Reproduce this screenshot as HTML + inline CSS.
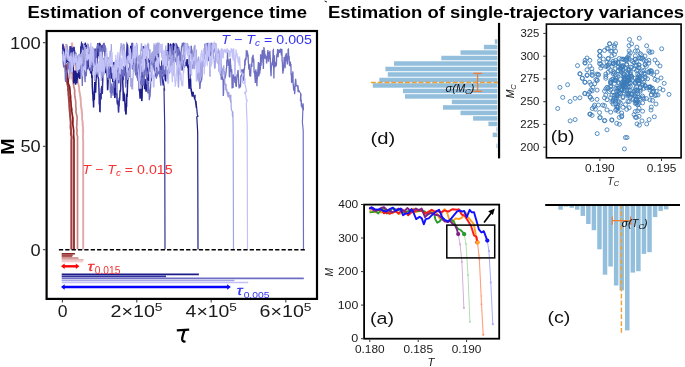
<!DOCTYPE html>
<html><head><meta charset="utf-8"><style>
html,body{margin:0;padding:0;background:#fff;}
svg{display:block;filter:blur(0.35px);}
text{font-family:"Liberation Sans",sans-serif;}
</style></head><body>
<svg width="685" height="367" viewBox="0 0 685 367">
<defs><clipPath id="clipL"><rect x="47.7" y="32" width="268" height="217.6"/></clipPath></defs>
<rect width="685" height="367" fill="#fff"/>
<line x1="324.6" y1="1.0" x2="327.0" y2="2.0" stroke="#000" stroke-width="0.9"/>
<g clip-path="url(#clipL)">
<polyline points="72.2,42.0 72.7,45.5 73.0,49.0 73.1,52.5 73.0,56.0 74.1,59.5 74.8,63.0 75.5,66.5 76.2,70.0 76.8,73.3 77.7,76.7 77.6,80.0 78.3,83.3 79.3,86.7 79.2,90.0 79.9,93.1 80.0,96.2 80.4,99.4 80.9,102.5 80.6,105.6 81.2,108.8 81.4,111.9 81.9,115.0 82.0,118.1 82.6,121.2 82.2,124.4 82.9,127.5 82.5,130.6 82.8,133.8 82.9,136.9 83.0,140.0 83.0,143.0 83.0,146.1 83.0,149.1 83.0,152.2 83.0,155.2 83.0,158.3 83.0,161.3 83.0,164.4 83.0,167.4 83.0,170.5 83.0,173.5 83.0,176.6 83.0,179.6 83.0,182.7 83.0,185.7 83.0,188.8 83.0,191.8 83.0,194.8 83.0,197.9 83.0,200.9 83.0,204.0 83.0,207.0 83.0,210.1 83.0,213.1 83.0,216.2 83.0,219.2 83.0,222.3 83.0,225.3 83.0,228.4 83.0,231.4 83.0,234.5 83.0,237.5 83.0,240.6 83.0,243.6 83.0,246.7 83.0,249.7" fill="none" stroke="#f4cccc" stroke-width="1.7"/>
<polyline points="71.8,43.0 71.9,46.0 72.7,49.0 73.1,52.0 73.1,55.0 73.6,58.0 74.6,61.5 75.2,65.0 75.9,68.5 76.7,72.0 76.9,75.3 77.8,78.7 77.8,82.0 78.6,85.3 79.2,88.7 79.4,92.0 80.1,95.0 80.8,98.0 80.7,101.0 80.8,104.0 81.3,107.0 81.9,110.0 82.0,113.0 82.3,116.0 82.1,119.0 82.7,122.0 82.8,125.0 83.1,128.0 83.3,131.0 83.2,134.0 82.8,137.0 83.3,140.0 83.3,143.0 83.3,146.1 83.3,149.1 83.3,152.2 83.3,155.2 83.3,158.3 83.3,161.3 83.3,164.4 83.3,167.4 83.3,170.5 83.3,173.5 83.3,176.6 83.3,179.6 83.3,182.7 83.3,185.7 83.3,188.8 83.3,191.8 83.3,194.8 83.3,197.9 83.3,200.9 83.3,204.0 83.3,207.0 83.3,210.1 83.3,213.1 83.3,216.2 83.3,219.2 83.3,222.3 83.3,225.3 83.3,228.4 83.3,231.4 83.3,234.5 83.3,237.5 83.3,240.6 83.3,243.6 83.3,246.7 83.3,249.7" fill="none" stroke="#e0a8a8" stroke-width="1.7"/>
<polyline points="66.1,44.0 67.1,47.2 67.4,50.4 67.6,53.6 68.3,56.8 69.2,60.0 69.6,63.0 70.5,66.0 70.4,69.0 71.9,72.0 72.4,75.0 72.2,78.0 72.9,81.0 73.4,84.0 73.9,87.0 74.7,90.0 74.6,93.1 74.8,96.2 75.4,99.4 75.8,102.5 75.7,105.6 76.1,108.8 75.9,111.9 76.7,115.0 77.2,118.1 76.9,121.2 76.9,124.4 76.6,127.5 77.1,130.6 76.8,133.8 77.6,136.9 77.5,140.0 77.5,143.0 77.5,146.1 77.5,149.1 77.5,152.2 77.5,155.2 77.5,158.3 77.5,161.3 77.5,164.4 77.5,167.4 77.5,170.5 77.5,173.5 77.5,176.6 77.5,179.6 77.5,182.7 77.5,185.7 77.5,188.8 77.5,191.8 77.5,194.8 77.5,197.9 77.5,200.9 77.5,204.0 77.5,207.0 77.5,210.1 77.5,213.1 77.5,216.2 77.5,219.2 77.5,222.3 77.5,225.3 77.5,228.4 77.5,231.4 77.5,234.5 77.5,237.5 77.5,240.6 77.5,243.6 77.5,246.7 77.5,249.7" fill="none" stroke="#c88080" stroke-width="1.7"/>
<polyline points="63.2,45.0 63.1,48.4 63.9,51.8 63.9,55.2 64.8,58.6 64.7,62.0 65.2,65.2 65.6,68.5 65.7,71.8 66.7,75.0 66.5,78.0 66.8,81.0 67.3,84.0 67.9,87.0 67.8,90.0 68.7,93.1 68.5,96.2 68.7,99.4 69.1,102.5 69.2,105.6 69.3,108.8 69.6,111.9 70.0,115.0 70.5,118.1 70.5,121.2 70.7,124.4 70.3,127.5 70.9,130.6 71.2,133.8 71.8,136.9 71.6,140.0 71.6,143.0 71.6,146.1 71.6,149.1 71.6,152.2 71.6,155.2 71.6,158.3 71.6,161.3 71.6,164.4 71.6,167.4 71.6,170.5 71.6,173.5 71.6,176.6 71.6,179.6 71.6,182.7 71.6,185.7 71.6,188.8 71.6,191.8 71.6,194.8 71.6,197.9 71.6,200.9 71.6,204.0 71.6,207.0 71.6,210.1 71.6,213.1 71.6,216.2 71.6,219.2 71.6,222.3 71.6,225.3 71.6,228.4 71.6,231.4 71.6,234.5 71.6,237.5 71.6,240.6 71.6,243.6 71.6,246.7 71.6,249.7" fill="none" stroke="#b05858" stroke-width="1.7"/>
<polyline points="63.6,46.0 64.0,49.4 64.0,52.8 64.5,56.2 64.9,59.6 65.2,63.0 66.1,66.2 65.9,69.5 66.3,72.8 66.7,76.0 67.3,79.0 67.3,82.0 67.7,85.0 68.2,88.0 68.5,91.0 68.3,94.1 69.2,97.2 69.1,100.4 69.5,103.5 69.6,106.6 70.1,109.8 69.9,112.9 70.1,116.0 70.4,119.0 70.8,122.0 70.6,125.0 71.0,128.0 71.2,131.0 70.7,134.0 71.5,137.0 71.3,140.0 71.3,143.0 71.3,146.1 71.3,149.1 71.3,152.2 71.3,155.2 71.3,158.3 71.3,161.3 71.3,164.4 71.3,167.4 71.3,170.5 71.3,173.5 71.3,176.6 71.3,179.6 71.3,182.7 71.3,185.7 71.3,188.8 71.3,191.8 71.3,194.8 71.3,197.9 71.3,200.9 71.3,204.0 71.3,207.0 71.3,210.1 71.3,213.1 71.3,216.2 71.3,219.2 71.3,222.3 71.3,225.3 71.3,228.4 71.3,231.4 71.3,234.5 71.3,237.5 71.3,240.6 71.3,243.6 71.3,246.7 71.3,249.7" fill="none" stroke="#a04040" stroke-width="1.7"/>
<polyline points="63.0,48.0 63.8,51.4 64.4,54.8 64.5,58.2 64.9,61.6 65.7,65.0 66.0,68.0 66.7,71.0 67.4,74.0 67.6,77.0 68.2,80.0 68.2,83.3 69.6,86.7 70.0,90.0 70.1,93.1 70.6,96.2 70.7,99.4 71.0,102.5 71.1,105.6 71.7,108.8 71.9,111.9 72.3,115.0 72.9,118.1 72.9,121.2 72.8,124.4 73.3,127.5 73.7,130.6 73.6,133.8 73.8,136.9 74.0,140.0 74.0,143.0 74.0,146.1 74.0,149.1 74.0,152.2 74.0,155.2 74.0,158.3 74.0,161.3 74.0,164.4 74.0,167.4 74.0,170.5 74.0,173.5 74.0,176.6 74.0,179.6 74.0,182.7 74.0,185.7 74.0,188.8 74.0,191.8 74.0,194.8 74.0,197.9 74.0,200.9 74.0,204.0 74.0,207.0 74.0,210.1 74.0,213.1 74.0,216.2 74.0,219.2 74.0,222.3 74.0,225.3 74.0,228.4 74.0,231.4 74.0,234.5 74.0,237.5 74.0,240.6 74.0,243.6 74.0,246.7 74.0,249.7" fill="none" stroke="#8b1a1a" stroke-width="1.7"/>
<polyline points="62.6,46.8 62.9,48.0 63.1,52.3 63.4,49.2 63.6,50.6 63.9,50.6 64.1,51.1 64.3,54.4 64.6,58.1 64.8,58.0 65.1,48.6 65.3,51.0 65.6,54.7 65.8,53.6 66.1,48.4 66.3,51.6 66.6,53.8 66.8,53.2 67.1,61.2 67.3,61.8 67.6,53.4 67.8,54.4 68.1,56.1 68.3,58.4 68.6,58.4 68.8,62.5 69.1,58.9 69.3,63.6 69.6,63.3 69.8,61.2 70.1,61.7 70.3,67.0 70.6,65.0 70.8,70.0 71.1,62.3 71.3,58.2 71.6,56.0 71.8,61.3 72.1,58.9 72.3,59.5 72.6,60.0 72.8,54.6 73.1,61.4 73.3,67.7 73.6,73.0 73.8,83.4 74.1,80.4 74.3,71.7 74.6,70.6 74.8,72.1 75.1,73.8 75.3,79.7 75.6,84.6 75.8,79.5 76.1,70.5 76.3,73.9 76.6,82.8 76.8,83.3 77.1,78.6 77.3,78.7 77.6,75.7 77.8,74.1 78.1,73.6 78.3,77.6 78.6,75.2 78.8,73.2 79.1,74.9 79.3,69.1 79.6,73.6 79.8,79.0 80.1,70.1 80.3,72.4 80.6,67.5 80.8,63.5 81.1,65.6 81.3,71.5 81.6,75.0 81.8,73.4 82.1,64.3 82.3,69.3 82.6,66.1 82.8,69.3 83.1,67.9 83.3,67.8 83.6,63.3 83.8,59.2 84.1,55.9 84.3,47.7 84.6,46.9 84.8,45.2 85.1,45.3 85.3,42.7 85.6,45.3 85.8,51.8 86.1,45.1 86.3,48.9 86.6,51.4 86.8,57.5 87.1,51.1 87.3,46.7 87.6,47.1 87.8,44.0 88.1,53.4 88.3,48.4 88.6,51.7 88.8,54.1 89.1,59.6 89.3,54.2 89.6,54.8 89.8,49.8 90.1,56.2 90.3,65.9 90.6,71.9 90.8,71.6 91.1,68.7 91.3,68.8 91.6,69.3 91.8,77.9 92.1,75.2 92.3,85.1 92.6,91.6 92.8,91.2 93.1,100.8 93.3,98.6 93.6,107.6 93.8,95.9 94.1,96.5 94.3,100.0 94.6,89.1 94.8,82.1 95.1,91.9 95.3,89.3 95.6,92.6 95.8,87.1 96.1,78.7 96.3,76.1 96.6,72.5 96.8,61.8 97.1,63.5 97.3,52.7 97.6,44.6 97.8,43.1 98.1,51.2 98.3,44.9 98.6,46.6 98.8,56.3 99.1,53.3 99.3,47.5 99.6,42.8 99.8,46.4 100.1,50.7 100.3,44.4 100.6,46.7 100.8,50.5 101.1,58.1 101.3,63.7 101.6,58.0 101.8,55.8 102.1,45.3 102.3,50.2 102.6,50.0 102.8,51.7 103.1,47.4 103.3,45.4 103.6,44.5 103.8,43.4 104.1,45.0 104.3,45.6 104.6,44.9 104.8,54.3 105.1,55.6 105.3,61.4 105.6,64.2 105.8,73.3 106.1,65.8 106.3,54.2 106.6,59.9 106.8,64.0 107.1,71.1 107.3,78.5 107.6,90.3 107.8,88.0 108.1,81.3 108.3,76.3 108.6,73.9 108.8,74.6 109.1,71.8 109.3,73.7 109.6,74.2 109.8,77.5 110.1,76.1 110.3,77.7 110.6,70.4 110.8,72.4 111.1,74.5 111.3,77.6 111.6,78.6 111.8,72.4 112.1,73.2 112.3,66.6 112.6,76.8 112.8,82.2 113.1,75.0 113.3,76.3 113.6,77.0 113.8,81.6 114.1,90.7 114.3,93.8 114.6,89.9 114.8,98.0 115.1,96.5 115.3,87.7 115.6,95.1 115.8,88.7 116.1,90.4 116.3,86.7 116.6,87.5 116.8,82.8 117.1,86.5 117.3,83.0 117.6,81.7 117.8,78.1 118.1,82.9 118.3,81.2 118.6,76.0 118.8,71.0 119.1,65.6 119.3,67.8 119.6,64.0 119.8,70.7 120.1,67.1 120.3,65.9 120.6,69.1 120.8,74.1 121.1,74.3 121.3,76.4 121.6,67.4 121.8,67.4 122.1,64.6 122.3,67.2 122.6,76.6 122.8,83.7 123.1,90.8 123.3,101.3 123.6,91.7 123.8,99.9 124.1,96.8 124.3,93.6 124.6,96.3 124.8,100.5 125.1,106.2 125.3,111.4 125.6,109.5 125.8,113.3 126.1,114.5 126.3,105.1 126.6,105.4 126.8,93.8 127.1,96.9 127.3,92.4 127.6,83.1 127.8,80.0 128.1,73.9 128.3,79.5 128.6,69.1 128.8,67.9 129.1,69.8 129.3,76.4 129.6,75.6 129.8,69.2 130.1,62.0 130.3,58.0 130.6,49.5 130.8,45.8 131.1,48.7 131.3,56.2 131.6,45.7 131.8,49.1 132.1,51.0 132.3,48.8 132.6,46.8 132.8,50.8 133.1,48.0 133.3,44.5 133.6,48.8 133.8,51.0 134.1,55.8 134.3,52.0 134.6,50.3 134.8,53.4 135.1,53.7 135.3,58.1 135.6,55.8 135.8,60.7 136.1,55.9 136.3,57.6 136.6,56.7 136.8,56.9 137.1,64.8 137.3,64.7 137.6,78.1 137.8,75.3 138.1,74.5 138.3,72.6 138.6,81.2 138.8,75.3 139.1,73.8 139.3,77.0 139.6,91.3 139.8,92.1 140.1,98.6 140.3,94.8 140.6,93.0 140.8,94.6 141.1,88.7 141.3,91.8 141.6,93.1 141.8,101.1 142.1,96.9 142.3,84.2 142.6,76.6 142.8,65.1 143.1,65.9 143.3,77.0 143.6,79.2 143.8,76.5 144.1,80.3 144.3,80.6 144.6,89.3 144.8,85.4 145.1,79.0 145.3,83.7 145.6,89.5 145.8,88.3 146.1,91.7 146.3,88.6 146.6,82.3 146.8,85.1 147.1,83.3 147.3,78.3 147.6,79.0 147.8,78.9 148.1,76.6 148.3,78.6 148.6,73.8 148.8,80.6 149.1,80.5 149.3,73.5 149.6,71.8 149.8,69.3 150.1,71.1 150.3,70.2 150.6,77.0 150.8,80.6 151.1,80.6 151.3,78.9 151.6,75.8 151.8,66.8 152.1,69.0 152.3,71.7 152.6,69.4 152.8,66.4 153.1,65.3 153.3,58.0 153.6,58.8 153.8,59.5 154.1,56.8 154.3,57.4 154.6,51.6 154.8,55.0 155.1,59.5 155.3,67.9 155.6,74.8 155.8,69.5 156.1,66.9 156.3,63.4 156.6,62.8 156.8,61.1 157.1,59.9 157.3,56.6 157.6,50.1 157.8,57.0 158.1,53.8 158.3,60.0 158.6,60.5 158.8,64.1 159.1,64.8 159.3,69.5 159.6,68.1 159.8,73.7 160.1,71.6 160.3,77.1 160.6,70.5 160.8,68.3 161.1,65.8 161.3,71.8 161.6,72.9 161.8,63.7 162.1,60.2 162.3,66.4 162.6,65.6 162.8,65.2 163.1,66.7 163.3,61.9 163.6,64.2 163.8,65.3 164.1,55.1 164.3,64.6 164.6,63.9 164.8,76.0 165.1,76.8 165.3,80.5 165.6,79.8 165.8,81.4 166.1,71.8 166.3,67.4 166.6,65.9 166.8,65.0 167.1,58.4 167.3,59.2 167.6,55.4 167.8,50.1 168.1,53.6 168.3,43.1 168.6,54.3 168.8,55.8 169.1,60.7 169.3,60.2 169.6,50.9 169.8,51.9 170.1,45.2 170.3,44.9 170.6,49.1 170.8,48.2 171.1,48.7 171.3,47.5 171.6,44.7 171.8,46.2 172.1,50.9 172.3,52.0 172.6,51.9 172.8,44.6 173.1,46.3 173.3,43.0 173.6,43.8 173.8,49.1 174.1,48.6 174.3,48.5 174.6,54.1 174.8,43.9 175.1,49.0 175.3,43.9 175.6,47.2 175.8,53.0 176.1,43.3 176.3,44.7 176.6,44.7 176.8,45.6 177.1,47.0 177.3,48.2 177.6,52.7 177.8,57.9 178.1,56.3 178.3,52.1 178.6,52.9 178.8,52.8 179.1,50.6 179.3,54.7 179.6,51.6 179.8,55.3 180.1,64.0 180.3,66.2 180.6,64.9 180.8,67.7 181.1,59.5 181.3,60.4 181.6,61.6 181.8,64.6 182.1,70.4 182.3,68.5 182.6,65.8 182.8,65.6 183.1,68.3 183.3,67.3 183.6,66.4 183.8,60.2 184.1,64.1 184.3,67.8 184.6,63.7 184.8,62.0 185.1,54.0 185.3,58.4 185.6,63.5 185.8,59.7 186.1,61.8 186.3,66.3 186.6,59.5 186.8,61.6 187.1,62.0 187.3,60.2 187.6,59.3 187.8,67.9 188.1,64.5 188.3,68.3 188.6,77.1 188.8,81.6 189.1,87.9 189.3,88.8 189.6,82.1 189.8,81.4 190.1,73.7 190.3,77.7 190.6,80.0 190.8,87.7" fill="none" stroke="#1c1c8a" stroke-width="1.5"/>
<polyline points="190.8,87.7 192.4,96.6 193.0,91.9 193.4,94.6" fill="none" stroke="#1c1c8a" stroke-width="1.6"/>
<polyline points="193.4,94.6 194.8,99.7 195.1,94.7 195.0,98.5 196.3,107.9 196.0,100.7 196.6,107.0 197.3,114.4 198.0,116.2 196.8,116.8 197.7,132.7 198.0,249.7" fill="none" stroke="#1c1c8a" stroke-width="1.2"/>
<polyline points="62.6,54.1 62.9,43.7 63.1,47.3 63.4,49.3 63.6,51.4 63.9,59.7 64.1,66.8 64.3,65.1 64.6,62.7 64.8,53.1 65.1,59.3 65.3,58.8 65.6,60.0 65.8,58.3 66.1,59.7 66.3,63.0 66.6,59.6 66.8,58.2 67.1,59.2 67.3,57.5 67.6,57.5 67.8,56.5 68.1,56.0 68.3,60.0 68.6,63.4 68.8,58.1 69.1,60.4 69.3,57.8 69.6,55.1 69.8,52.5 70.1,46.0 70.3,50.5 70.6,50.3 70.8,48.1 71.1,47.8 71.3,51.7 71.6,51.5 71.8,47.9 72.1,49.6 72.3,52.2 72.6,59.2 72.8,53.6 73.1,50.7 73.3,47.3 73.6,53.2 73.8,49.7 74.1,46.7 74.3,49.6 74.6,51.1 74.8,53.3 75.1,54.5 75.3,56.3 75.6,61.0 75.8,64.5 76.1,60.6 76.3,62.3 76.6,61.2 76.8,58.0 77.1,61.4 77.3,64.1 77.6,68.8 77.8,71.6 78.1,68.0 78.3,69.2 78.6,65.9 78.8,68.6 79.1,63.2 79.3,63.9 79.6,61.6 79.8,54.3 80.1,55.9 80.3,58.2 80.6,54.9 80.8,46.3 81.1,52.6 81.3,46.0 81.6,43.3 81.8,43.7 82.1,46.5 82.3,45.8 82.6,43.5 82.8,48.0 83.1,49.5 83.3,49.8 83.6,51.6 83.8,59.9 84.1,67.2 84.3,65.1 84.6,67.4 84.8,60.5 85.1,55.0 85.3,64.8 85.6,62.2 85.8,57.2 86.1,54.2 86.3,54.0 86.6,56.1 86.8,59.7 87.1,56.1 87.3,65.8 87.6,69.3 87.8,63.6 88.1,53.0 88.3,53.0 88.6,58.2 88.8,59.3 89.1,67.0 89.3,63.9 89.6,70.4 89.8,61.6 90.1,63.3 90.3,62.1 90.6,65.7 90.8,58.3 91.1,56.5 91.3,64.0 91.6,67.1 91.8,70.1 92.1,71.3 92.3,69.1 92.6,62.0 92.8,66.4 93.1,67.3 93.3,61.6 93.6,66.2 93.8,59.7 94.1,60.2 94.3,61.1 94.6,67.0 94.8,69.5 95.1,64.3 95.3,58.8 95.6,55.3 95.8,49.5 96.1,49.7 96.3,50.2 96.6,50.3 96.8,58.0 97.1,61.3 97.3,74.3 97.6,76.9 97.8,73.3 98.1,76.1 98.3,78.4 98.6,78.9 98.8,84.9 99.1,93.4 99.3,104.4 99.6,100.2 99.8,111.4 100.1,111.5 100.3,99.8 100.6,95.5 100.8,93.1 101.1,99.4 101.3,88.9 101.6,88.0 101.8,86.0 102.1,90.2 102.3,93.9 102.6,83.4 102.8,79.1 103.1,73.2 103.3,67.2 103.6,66.8 103.8,61.8 104.1,59.9 104.3,60.3 104.6,58.8 104.8,55.5 105.1,55.4 105.3,60.6 105.6,67.2 105.8,69.2 106.1,58.4 106.3,61.4 106.6,67.3 106.8,68.3 107.1,74.1 107.3,76.1 107.6,73.0 107.8,71.2 108.1,63.7 108.3,69.2 108.6,72.9 108.8,77.6 109.1,74.6 109.3,78.5 109.6,69.6 109.8,66.7 110.1,66.9 110.3,70.4 110.6,69.9 110.8,78.2 111.1,71.9 111.3,73.6 111.6,74.8 111.8,71.9 112.1,68.5 112.3,74.1 112.6,75.6 112.8,77.2 113.1,78.1 113.3,75.3 113.6,69.0 113.8,62.0 114.1,62.7 114.3,64.2 114.6,67.3 114.8,75.6 115.1,75.0 115.3,83.3 115.6,88.3 115.8,85.8 116.1,84.4 116.3,82.5 116.6,86.9 116.8,89.2 117.1,101.7 117.3,103.1 117.6,104.6 117.8,103.8 118.1,100.4 118.3,107.6 118.6,112.6 118.8,106.5 119.1,106.1 119.3,97.8 119.6,100.6 119.8,97.0 120.1,90.3 120.3,92.0 120.6,89.9 120.8,83.8 121.1,74.4 121.3,76.4 121.6,70.9 121.8,72.3 122.1,72.2 122.3,76.0 122.6,73.4 122.8,77.8 123.1,80.2 123.3,71.8 123.6,74.8 123.8,69.7 124.1,69.2 124.3,69.5 124.6,69.4 124.8,73.3 125.1,76.3 125.3,67.6 125.6,68.8 125.8,67.2 126.1,62.6 126.3,65.8 126.6,53.6 126.8,51.1 127.1,44.4 127.3,44.8 127.6,45.9 127.8,49.3 128.1,56.3 128.3,53.5 128.6,53.8 128.8,58.6 129.1,62.8 129.3,61.6 129.6,60.7 129.8,59.9 130.1,54.9 130.3,54.5 130.6,57.3 130.8,60.9 131.1,64.5 131.3,58.5 131.6,53.8 131.8,48.8 132.1,42.8 132.3,46.7 132.6,46.5 132.8,46.4 133.1,51.1 133.3,61.1 133.6,68.0 133.8,60.3 134.1,57.2 134.3,63.2 134.6,63.0 134.8,57.6 135.1,58.4 135.3,53.1 135.6,47.6 135.8,52.1 136.1,47.2 136.3,49.5 136.6,52.8 136.8,54.2 137.1,61.1 137.3,59.8 137.6,59.3 137.8,63.5 138.1,67.4 138.3,75.2 138.6,64.0 138.8,70.5 139.1,79.7 139.3,90.8 139.6,81.7 139.8,78.5 140.1,82.8 140.3,79.8 140.6,75.9 140.8,76.9 141.1,79.0 141.3,75.7 141.6,69.9 141.8,62.2 142.1,62.2 142.3,57.1 142.6,54.2 142.8,52.0 143.1,53.5 143.3,49.6 143.6,46.1 143.8,48.7 144.1,47.5 144.3,49.2 144.6,49.4 144.8,46.8 145.1,54.7 145.3,56.3 145.6,55.5 145.8,58.8 146.1,63.2 146.3,75.4 146.6,76.3 146.8,75.2 147.1,67.3 147.3,70.9 147.6,68.1 147.8,68.3 148.1,58.3 148.3,59.4 148.6,70.0 148.8,74.6 149.1,74.5 149.3,67.2 149.6,60.5 149.8,59.7 150.1,66.8 150.3,67.9 150.6,67.2 150.8,61.9 151.1,68.3 151.3,68.2 151.6,61.2 151.8,62.8 152.1,61.0 152.3,55.8 152.6,63.1 152.8,55.7 153.1,59.5 153.3,62.7 153.6,58.4 153.8,56.9 154.1,62.0 154.3,64.2 154.6,67.5 154.8,72.5 155.1,76.7 155.3,68.9 155.6,60.0 155.8,65.6 156.1,68.5 156.3,59.0 156.6,56.2 156.8,57.1 157.1,60.5 157.3,60.3 157.6,61.4 157.8,63.3" fill="none" stroke="#30309e" stroke-width="1.5"/>
<polyline points="157.8,63.3 159.7,71.9 158.7,67.1 160.3,72.5" fill="none" stroke="#30309e" stroke-width="1.6"/>
<polyline points="160.3,72.5 162.4,72.8 162.4,72.5 161.6,71.9 163.0,85.4 162.3,76.3 163.6,82.2 164.6,90.1 164.5,90.1 164.0,89.5 164.7,125.0 165.0,249.7" fill="none" stroke="#30309e" stroke-width="1.2"/>
<polyline points="62.6,49.5 62.9,54.9 63.1,60.7 63.4,65.3 63.6,66.3 63.9,65.6 64.1,67.2 64.3,66.3 64.6,59.8 64.8,64.4 65.1,69.6 65.3,78.5 65.6,81.9 65.8,80.9 66.1,75.5 66.3,75.8 66.6,70.5 66.8,72.4 67.1,71.8 67.3,70.3 67.6,64.3 67.8,64.7 68.1,65.6 68.3,62.8 68.6,68.1 68.8,68.2 69.1,69.2 69.3,70.9 69.6,74.1 69.8,68.8 70.1,67.5 70.3,62.2 70.6,66.6 70.8,57.9 71.1,54.2 71.3,52.7 71.6,57.4 71.8,59.5 72.1,60.2 72.3,58.7 72.6,53.7 72.8,55.6 73.1,56.0 73.3,53.9 73.6,51.0 73.8,55.6 74.1,57.7 74.3,63.1 74.6,58.0 74.8,58.1 75.1,62.8 75.3,57.7 75.6,52.5 75.8,54.2 76.1,54.0 76.3,58.6 76.6,59.3 76.8,59.2 77.1,55.5 77.3,59.3 77.6,57.3 77.8,63.5 78.1,67.6 78.3,65.6 78.6,64.6 78.8,69.0 79.1,69.2 79.3,64.6 79.6,66.0 79.8,62.5 80.1,71.7 80.3,72.4 80.6,74.5 80.8,74.7 81.1,72.7 81.3,69.1 81.6,71.5 81.8,68.2 82.1,77.9 82.3,85.9 82.6,71.6 82.8,61.7 83.1,68.2 83.3,67.1 83.6,63.7 83.8,65.5 84.1,64.9 84.3,61.9 84.6,67.2 84.8,76.5 85.1,82.3 85.3,73.6 85.6,71.7 85.8,74.3 86.1,72.0 86.3,76.1 86.6,69.0 86.8,67.5 87.1,51.8 87.3,55.3 87.6,53.9 87.8,51.9 88.1,50.8 88.3,48.8 88.6,46.5 88.8,47.5 89.1,53.0 89.3,59.5 89.6,65.4 89.8,64.8 90.1,64.1 90.3,71.3 90.6,64.8 90.8,67.3 91.1,62.9 91.3,71.1 91.6,68.8 91.8,69.3 92.1,68.3 92.3,63.7 92.6,61.8 92.8,58.3 93.1,62.0 93.3,64.7 93.6,61.5 93.8,61.1 94.1,54.4 94.3,48.5 94.6,52.9 94.8,59.6 95.1,49.5 95.3,56.8 95.6,61.9 95.8,66.4 96.1,58.7 96.3,57.1 96.6,50.2 96.8,50.5 97.1,46.8 97.3,46.7 97.6,47.1 97.8,44.0 98.1,43.3 98.3,47.8 98.6,44.9 98.8,45.9 99.1,49.8 99.3,59.1 99.6,55.2 99.8,47.5 100.1,48.0 100.3,52.0 100.6,47.0 100.8,45.3 101.1,49.6 101.3,51.4 101.6,53.8 101.8,50.2 102.1,54.9 102.3,48.2 102.6,51.4 102.8,51.2 103.1,44.2 103.3,49.0 103.6,44.9 103.8,49.2 104.1,42.7 104.3,49.2 104.6,48.8 104.8,51.1 105.1,46.3 105.3,49.7 105.6,54.2 105.8,61.5 106.1,61.4 106.3,59.1 106.6,63.7 106.8,67.6 107.1,71.0 107.3,71.1 107.6,77.4 107.8,74.0 108.1,76.3 108.3,79.9 108.6,68.9 108.8,74.5 109.1,72.0 109.3,68.2 109.6,70.0 109.8,74.8 110.1,75.7 110.3,92.7 110.6,86.8 110.8,91.1 111.1,98.0 111.3,93.2 111.6,86.8 111.8,83.3 112.1,93.0 112.3,86.3 112.6,88.4 112.8,92.1 113.1,95.8 113.3,89.8 113.6,82.9 113.8,80.1 114.1,73.4 114.3,77.6 114.6,72.3 114.8,75.1 115.1,68.8 115.3,64.1 115.6,68.1 115.8,62.9 116.1,71.9 116.3,71.9 116.6,74.4 116.8,67.0 117.1,70.2 117.3,71.1 117.6,73.6 117.8,79.8 118.1,73.6 118.3,73.0 118.6,73.5 118.8,70.6 119.1,83.4 119.3,78.5 119.6,75.6 119.8,73.9 120.1,68.8 120.3,69.5 120.6,66.9 120.8,60.9 121.1,75.4 121.3,79.4 121.6,75.4 121.8,73.6 122.1,74.8 122.3,64.3 122.6,67.9 122.8,66.8 123.1,72.2 123.3,76.8 123.6,72.8 123.8,66.8 124.1,67.0 124.3,67.2 124.6,67.3 124.8,71.8 125.1,74.6 125.3,73.1 125.6,87.5 125.8,80.3 126.1,83.7 126.3,78.3 126.6,80.0 126.8,65.7 127.1,66.7 127.3,61.6 127.6,60.7 127.8,57.6 128.1,60.8 128.3,59.0 128.6,63.6 128.8,58.2 129.1,63.7 129.3,62.7 129.6,65.8 129.8,59.5 130.1,60.8 130.3,59.2 130.6,60.1 130.8,68.4 131.1,64.6 131.3,54.3 131.6,52.3 131.8,61.2 132.1,67.2 132.3,65.2 132.6,69.6 132.8,62.7 133.1,68.2 133.3,66.1 133.6,66.0 133.8,68.6 134.1,64.7 134.3,57.9 134.6,62.6 134.8,59.8 135.1,59.0 135.3,71.8 135.6,75.5 135.8,66.8 136.1,64.7 136.3,68.1 136.6,68.3 136.8,72.0 137.1,78.2 137.3,74.2 137.6,75.7 137.8,80.6 138.1,77.5 138.3,76.4 138.6,77.7 138.8,69.9 139.1,63.2 139.3,68.1 139.6,69.3 139.8,81.6 140.1,84.6 140.3,80.3 140.6,78.2 140.8,74.0 141.1,74.5 141.3,81.2 141.6,77.6 141.8,85.9 142.1,83.7 142.3,83.0 142.6,77.8 142.8,84.4 143.1,75.9 143.3,78.8 143.6,85.6 143.8,84.5 144.1,79.7 144.3,77.5 144.6,70.8 144.8,70.6 145.1,68.2 145.3,69.6 145.6,70.1 145.8,68.6 146.1,64.1 146.3,71.5 146.6,81.1 146.8,83.9 147.1,83.1 147.3,80.5 147.6,90.0 147.8,93.5 148.1,89.5 148.3,82.1 148.6,86.1 148.8,89.5 149.1,90.2 149.3,100.2 149.6,95.7 149.8,97.8 150.1,95.1 150.3,90.7 150.6,86.9 150.8,76.4 151.1,74.0 151.3,71.0 151.6,75.9 151.8,77.6 152.1,74.1 152.3,66.8 152.6,69.6 152.8,65.9 153.1,59.8 153.3,59.0 153.6,59.8 153.8,62.6 154.1,65.1 154.3,57.1 154.6,60.8 154.8,60.9 155.1,65.1 155.3,68.0 155.6,65.8 155.8,63.1 156.1,74.4 156.3,78.8 156.6,74.8 156.8,77.1 157.1,74.0 157.3,75.5 157.6,74.7 157.8,71.3 158.1,62.8 158.3,74.0 158.6,63.3 158.8,71.3 159.1,74.3 159.3,70.1 159.6,71.9 159.8,67.3 160.1,70.9 160.3,79.0 160.6,83.3 160.8,85.6 161.1,78.0 161.3,70.0 161.6,78.3 161.8,77.0 162.1,66.9 162.3,64.0 162.6,66.6 162.8,59.8 163.1,69.2 163.3,69.3 163.6,77.0 163.8,72.9 164.1,60.6 164.3,67.7 164.6,73.0 164.8,72.0 165.1,74.3 165.3,66.5 165.6,63.3 165.8,66.6 166.1,70.1 166.3,74.5 166.6,71.7 166.8,70.4 167.1,75.9 167.3,81.2 167.6,78.1 167.8,74.0 168.1,69.9 168.3,71.8 168.6,67.6 168.8,73.3 169.1,73.1 169.3,70.5 169.6,70.6 169.8,67.6 170.1,69.9 170.3,67.9 170.6,71.4 170.8,64.3 171.1,61.2 171.3,55.0 171.6,44.6 171.8,47.9 172.1,44.6 172.3,46.9 172.6,61.3 172.8,54.9 173.1,54.6 173.3,66.2 173.6,55.8 173.8,50.0 174.1,60.1 174.3,55.5 174.6,62.4 174.8,57.0 175.1,60.5 175.3,61.9 175.6,59.5 175.8,60.8 176.1,58.4 176.3,60.3 176.6,56.1 176.8,54.6 177.1,54.9 177.3,48.3 177.6,50.4 177.8,58.1 178.1,64.6 178.3,51.4 178.6,46.7 178.8,48.7 179.1,49.1 179.3,62.6 179.6,70.0 179.8,59.8 180.1,54.5 180.3,56.7 180.6,59.3 180.8,64.2 181.1,51.8 181.3,50.6 181.6,45.6 181.8,47.3 182.1,46.0 182.3,42.9 182.6,44.1 182.8,46.3 183.1,43.4 183.3,43.0 183.6,51.3 183.8,43.2 184.1,43.4 184.3,43.6 184.6,45.1 184.8,48.1 185.1,42.9 185.3,44.7 185.6,43.5 185.8,46.1 186.1,47.3 186.3,47.1 186.6,43.8 186.8,46.2 187.1,46.3 187.3,45.5 187.6,43.9 187.8,49.6 188.1,48.1 188.3,55.7 188.6,46.3 188.8,47.3 189.1,52.0 189.3,50.2 189.6,57.4 189.8,51.1 190.1,53.5 190.3,51.9 190.6,53.2 190.8,54.1 191.1,45.8 191.3,46.4 191.6,49.8 191.8,49.8 192.1,50.7 192.3,57.3 192.6,55.7 192.8,68.8 193.1,67.2 193.3,63.4 193.6,61.5 193.8,56.3 194.1,51.5 194.3,46.5 194.6,48.1 194.8,45.3 195.1,51.3 195.3,50.9 195.6,50.6 195.8,52.8 196.1,53.7 196.3,58.3 196.6,66.2 196.8,66.7 197.1,65.5 197.3,61.5 197.6,71.4 197.8,78.2 198.1,77.5 198.3,78.0 198.6,78.1 198.8,78.2 199.1,76.4 199.3,81.4 199.6,82.4 199.8,89.0 200.1,87.4 200.3,83.3 200.6,80.7 200.8,81.9 201.1,81.1 201.3,73.7 201.6,80.4 201.8,77.1 202.1,69.4 202.3,69.1 202.6,60.1 202.8,59.8 203.1,56.4 203.3,58.3 203.6,49.7 203.8,55.2 204.1,59.3 204.3,50.2 204.6,49.4 204.8,44.5 205.1,44.5 205.3,54.7 205.6,46.9 205.8,49.5 206.1,48.8 206.3,53.4 206.6,47.9 206.8,43.2 207.1,44.6 207.3,44.5 207.6,44.0 207.8,46.4 208.1,45.6 208.3,61.1 208.6,55.4 208.8,60.8 209.1,54.2 209.3,57.4 209.6,52.4 209.8,61.7 210.1,76.4 210.3,64.7 210.6,65.1 210.8,53.0 211.1,47.8 211.3,47.8 211.6,43.4 211.8,43.5 212.1,45.5 212.3,47.1 212.6,47.1 212.8,46.2 213.1,47.1 213.3,50.4 213.6,52.9 213.8,52.9 214.1,42.8 214.3,47.4 214.6,48.0 214.8,46.5 215.1,51.4 215.3,49.6 215.6,47.7 215.8,43.4 216.1,56.8 216.3,51.5 216.6,56.1 216.8,55.6 217.1,57.6 217.3,55.6 217.6,56.0 217.8,56.2 218.1,61.2 218.3,62.8 218.6,64.4 218.8,62.6 219.1,63.9 219.3,64.8 219.6,62.8 219.8,59.4 220.1,65.9 220.3,70.8 220.6,73.1 220.8,75.1 221.1,75.3 221.3,79.8 221.6,74.2 221.8,69.5 222.1,73.2 222.3,76.9 222.6,80.3 222.8,79.4 223.1,79.9 223.3,95.9 223.6,91.9 223.8,84.1 224.1,84.2 224.3,77.0 224.6,76.5 224.8,77.7 225.1,78.0 225.3,77.9 225.6,75.6 225.8,73.6 226.1,72.2 226.3,68.6 226.6,67.6 226.8,60.7 227.1,60.2 227.3,58.4 227.6,52.2 227.8,60.5 228.1,62.0 228.3,66.0 228.6,60.6 228.8,60.3 229.1,65.8 229.3,77.0 229.6,73.9 229.8,77.5 230.1,68.7 230.3,58.4 230.6,65.4 230.8,64.8 231.1,71.5 231.3,71.5 231.6,69.1 231.8,72.6 232.1,88.5 232.3,79.9 232.6,84.0 232.8,77.5 233.1,87.9 233.3,74.4 233.6,76.6 233.8,78.2 234.1,76.4 234.3,79.0 234.6,77.2 234.8,82.8 235.1,81.7 235.3,75.8 235.6,81.1 235.8,85.6 236.1,83.6 236.3,86.9 236.6,81.5 236.8,79.1 237.1,74.4 237.3,75.7 237.6,75.1 237.8,71.7 238.1,70.0 238.3,75.9 238.6,79.2 238.8,83.1 239.1,88.5 239.3,85.8 239.6,84.2 239.8,86.6 240.1,84.3 240.3,87.5 240.6,85.4 240.8,76.9 241.1,77.2 241.3,75.0 241.6,78.9 241.8,69.3 242.1,75.1 242.3,70.3 242.6,71.5 242.8,69.4 243.1,76.0 243.3,79.9 243.6,79.5 243.8,79.7 244.1,68.3 244.3,70.4 244.6,67.3 244.8,59.8 245.1,65.4 245.3,60.1 245.6,57.8 245.8,59.8 246.1,59.3 246.3,51.1 246.6,51.3 246.8,51.8 247.1,50.4 247.3,54.3 247.6,53.9 247.8,57.4 248.1,54.5 248.3,61.4 248.6,64.7 248.8,69.5 249.1,67.8 249.3,64.3 249.6,72.2 249.8,76.3 250.1,70.1 250.3,75.0 250.6,76.6 250.8,71.3 251.1,65.0 251.3,63.7 251.6,65.7 251.8,67.0 252.1,58.0 252.3,58.0 252.6,56.7 252.8,56.3 253.1,54.8 253.3,62.4 253.6,58.6 253.8,60.3 254.1,72.1 254.3,72.6 254.6,71.0 254.8,75.6 255.1,79.3 255.3,83.0 255.6,79.3 255.8,69.4 256.1,72.5 256.4,71.7 256.6,79.1 256.9,86.2 257.1,79.8 257.4,78.5 257.6,75.1 257.9,69.9 258.1,66.6 258.4,62.1 258.6,75.5 258.9,76.2 259.1,62.8 259.4,66.9 259.6,74.3 259.9,71.7 260.1,69.9 260.4,69.3 260.6,54.3 260.9,59.0 261.1,65.7 261.4,59.2 261.6,55.3 261.9,59.0 262.1,51.4 262.4,50.5 262.6,50.6 262.9,62.3 263.1,62.8 263.4,69.0 263.6,57.5 263.9,47.9 264.1,48.0 264.4,52.7 264.6,50.9 264.9,58.6 265.1,54.0 265.4,56.3 265.6,55.7 265.9,57.6 266.1,59.0 266.4,59.7 266.6,63.5 266.9,61.8 267.1,56.2 267.4,55.7 267.6,52.5 267.9,50.1 268.1,53.9 268.4,59.3 268.6,61.7 268.9,51.9 269.1,58.3 269.4,58.5 269.6,57.2 269.9,50.9 270.1,55.6 270.4,60.2 270.6,68.2 270.9,74.0 271.1,76.3 271.4,65.0 271.6,66.6 271.9,65.4 272.1,62.4 272.4,64.9 272.6,61.2 272.9,57.1 273.1,50.2 273.4,49.8 273.6,65.0 273.9,78.5 274.1,63.4 274.4,55.2 274.6,61.3 274.9,67.4 275.1,65.1 275.4,64.6 275.6,64.9 275.9,62.1 276.1,66.2 276.4,64.8 276.6,58.9 276.9,53.8 277.1,56.5 277.4,53.4 277.6,49.0 277.9,51.8 278.1,57.3 278.4,53.6 278.6,49.6 278.9,51.8 279.1,53.0 279.4,49.9 279.6,52.9 279.9,51.0 280.1,49.8 280.4,49.3 280.6,49.1 280.9,49.1 281.1,52.1 281.4,55.4 281.6,50.8 281.9,48.9 282.1,61.0 282.4,62.2 282.6,69.0 282.9,73.7 283.1,68.4 283.4,71.3 283.6,67.4 283.9,64.2 284.1,58.1 284.4,58.3 284.6,56.8 284.9,57.8 285.1,68.3 285.4,58.2 285.6,55.0 285.9,61.3 286.1,54.0 286.4,53.2 286.6,57.7 286.9,56.0 287.1,62.1 287.4,64.5 287.6,61.4 287.9,58.8 288.1,49.5 288.4,49.2 288.6,54.6 288.9,59.3 289.1,56.0 289.4,63.0 289.6,66.0 289.9,64.0 290.1,62.1 290.4,62.4 290.6,66.7 290.9,63.9 291.1,74.4 291.4,74.3 291.6,82.8 291.9,80.6 292.1,77.3 292.4,77.7 292.6,76.1 292.9,71.4 293.1,83.0 293.4,86.4 293.6,89.1 293.9,90.6 294.1,86.5 294.4,85.7 294.6,94.1 294.9,91.1 295.1,84.0 295.4,82.1 295.6,78.9 295.9,81.3 296.1,86.4 296.4,85.2" fill="none" stroke="#6e6ec2" stroke-width="1.3"/>
<polyline points="296.4,85.2 297.9,86.1 298.3,92.1 298.4,89.7" fill="none" stroke="#6e6ec2" stroke-width="1.6"/>
<polyline points="298.4,89.7 301.1,94.3 300.4,101.2 300.7,93.5 301.4,106.7 301.2,100.7 302.1,107.3 303.5,110.4 303.1,103.4 302.4,122.2 303.2,130.2 303.5,249.7" fill="none" stroke="#6e6ec2" stroke-width="1.2"/>
<polyline points="62.6,59.3 62.9,62.3 63.1,58.8 63.4,52.5 63.6,58.3 63.9,60.1 64.1,56.0 64.3,60.6 64.6,63.4 64.8,62.5 65.1,59.5 65.3,56.6 65.6,52.2 65.8,49.1 66.1,45.6 66.3,47.8 66.6,44.1 66.8,46.6 67.1,47.6 67.3,57.7 67.6,55.4 67.8,57.0 68.1,61.0 68.3,51.7 68.6,55.4 68.8,57.0 69.1,56.7 69.3,66.3 69.6,71.2 69.8,79.5 70.1,74.6 70.3,68.7 70.6,60.8 70.8,64.0 71.1,52.8 71.3,53.8 71.6,58.2 71.8,61.9 72.1,58.4 72.3,58.2 72.6,63.0 72.8,66.6 73.1,59.5 73.3,61.1 73.6,56.4 73.8,59.2 74.1,61.7 74.3,58.3 74.6,63.1 74.8,61.7 75.1,55.7 75.3,54.9 75.6,55.7 75.8,61.4 76.1,59.8 76.3,69.3 76.6,67.6 76.8,67.1 77.1,70.2 77.3,61.6 77.6,65.1 77.8,55.4 78.1,56.5 78.3,60.4 78.6,60.2 78.8,54.0 79.1,59.0 79.3,53.8 79.6,60.7 79.8,60.5 80.1,64.0 80.3,65.4 80.6,54.0 80.8,54.4 81.1,54.4 81.3,59.3 81.6,63.2 81.8,57.3 82.1,63.7 82.3,59.7 82.6,53.4 82.8,52.3 83.1,55.1 83.3,49.8 83.6,55.9 83.8,60.6 84.1,65.5 84.3,60.8 84.6,44.9 84.8,54.2 85.1,47.4 85.3,47.6 85.6,49.1 85.8,46.9 86.1,54.3 86.3,57.1 86.6,56.2 86.8,57.0 87.1,60.0 87.3,53.4 87.6,44.1 87.8,43.8 88.1,44.3 88.3,52.0 88.6,49.1 88.8,51.2 89.1,50.0 89.3,59.9 89.6,55.6 89.8,57.3 90.1,68.5 90.3,64.4 90.6,58.2 90.8,64.3 91.1,58.7 91.3,55.7 91.6,65.2 91.8,64.5 92.1,62.1 92.3,52.3 92.6,56.3 92.8,47.7 93.1,48.1 93.3,62.5 93.6,52.8 93.8,51.1 94.1,66.2 94.3,77.5 94.6,81.2 94.8,75.7 95.1,75.0 95.3,79.5 95.6,65.5 95.8,73.1 96.1,71.3 96.3,70.2 96.6,60.5 96.8,74.4 97.1,64.5 97.3,63.3 97.6,72.0 97.8,72.7 98.1,68.5 98.3,75.7 98.6,76.4 98.8,70.9 99.1,60.8 99.3,63.7 99.6,68.6 99.8,72.1 100.1,60.4 100.3,70.1 100.6,73.8 100.8,67.5 101.1,74.9 101.3,81.1 101.6,66.6 101.8,61.5 102.1,66.9 102.3,73.2 102.6,72.5 102.8,74.2 103.1,77.7 103.3,73.9 103.6,74.0 103.8,69.4 104.1,75.1 104.3,68.1 104.6,56.0 104.8,59.5 105.1,51.8 105.3,63.1 105.6,66.0 105.8,63.8 106.1,60.2 106.3,63.9 106.6,53.1 106.8,60.7 107.1,66.2 107.3,77.6 107.6,75.7 107.8,62.1 108.1,57.0 108.3,59.4 108.6,57.4 108.8,60.3 109.1,65.8 109.3,68.7 109.6,60.6 109.8,59.8 110.1,50.8 110.3,54.5 110.6,64.7 110.8,58.9 111.1,55.3 111.3,44.0 111.6,54.1 111.8,52.1 112.1,63.8 112.3,63.5 112.6,66.6 112.8,78.7 113.1,77.0 113.3,68.7 113.6,64.9 113.8,69.2 114.1,67.3 114.3,65.8 114.6,66.4 114.8,69.7 115.1,75.4 115.3,74.5 115.6,70.9 115.8,76.6 116.1,79.9 116.3,77.0 116.6,78.6 116.8,92.7 117.1,85.0 117.3,93.4 117.6,79.8 117.8,79.0 118.1,71.7 118.3,73.2 118.6,79.4 118.8,80.0 119.1,66.3 119.3,63.2 119.6,60.2 119.8,56.9 120.1,52.9 120.3,51.3 120.6,46.8 120.8,47.6 121.1,43.1 121.3,47.1 121.6,46.8 121.8,44.6 122.1,55.5 122.3,52.5 122.6,49.4 122.8,55.9 123.1,52.6 123.3,43.6 123.6,51.1 123.8,51.6 124.1,44.1 124.3,45.3 124.6,50.7 124.8,52.5 125.1,58.9 125.3,59.9 125.6,57.2 125.8,59.1 126.1,63.8 126.3,61.9 126.6,59.9 126.8,65.0 127.1,66.9 127.3,56.4 127.6,74.0 127.8,79.9 128.1,75.2 128.3,71.6 128.6,78.3 128.8,70.8 129.1,70.0 129.3,70.3 129.6,67.7 129.8,76.2 130.1,67.4 130.3,62.0 130.6,73.5 130.8,86.9 131.1,83.8 131.3,84.6 131.6,78.1 131.8,89.3 132.1,87.8 132.3,85.3 132.6,89.4 132.8,79.9 133.1,76.7 133.3,69.1 133.6,65.7 133.8,66.7 134.1,64.2 134.3,71.5 134.6,61.0 134.8,60.4 135.1,63.2 135.3,60.1 135.6,53.5 135.8,55.2 136.1,46.0 136.3,46.8 136.6,42.8 136.8,50.6 137.1,53.7 137.3,44.3 137.6,56.5 137.8,56.9 138.1,63.6 138.3,63.7 138.6,55.9 138.8,58.9 139.1,58.2 139.3,54.7 139.6,63.7 139.8,65.2 140.1,70.9 140.3,64.4 140.6,59.0 140.8,49.3 141.1,51.4 141.3,44.0 141.6,43.9 141.8,45.5 142.1,50.4 142.3,50.9 142.6,46.5 142.8,69.5 143.1,75.7 143.3,66.1 143.6,59.5 143.8,57.5 144.1,60.5 144.3,60.4 144.6,54.7 144.8,56.5 145.1,58.5 145.3,54.3 145.6,50.5 145.8,48.1 146.1,45.6 146.3,46.9 146.6,54.9 146.8,47.3 147.1,46.8 147.3,50.0 147.6,43.7 147.8,47.5 148.1,48.0 148.3,44.0 148.6,44.5 148.8,50.4 149.1,50.6 149.3,58.7 149.6,58.0 149.8,49.1 150.1,50.1 150.3,58.8 150.6,61.3 150.8,71.5 151.1,61.6 151.3,60.9 151.6,52.8 151.8,61.3 152.1,56.8 152.3,52.7 152.6,51.5 152.8,62.7 153.1,62.4 153.3,58.1 153.6,55.7 153.8,48.4 154.1,43.4 154.3,58.4 154.6,44.7 154.8,47.9 155.1,56.3 155.3,54.5 155.6,50.4 155.8,48.7 156.1,43.5 156.3,43.1 156.6,58.1 156.8,52.6 157.1,52.9 157.3,54.1 157.6,43.2 157.8,43.0 158.1,47.2 158.3,43.7 158.6,45.2 158.8,52.0 159.1,44.2 159.3,42.7 159.6,48.5 159.8,44.6 160.1,45.3 160.3,46.1 160.6,49.5 160.8,44.6 161.1,49.5 161.3,52.9 161.6,50.2 161.8,55.0 162.1,58.1 162.3,54.3 162.6,51.4 162.8,49.6 163.1,53.8 163.3,63.0 163.6,54.1 163.8,53.7 164.1,60.4 164.3,61.4 164.6,61.1 164.8,57.3 165.1,61.3 165.3,59.1 165.6,53.9 165.8,45.6 166.1,56.4 166.3,53.1 166.6,50.1 166.8,54.7 167.1,64.0 167.3,61.8 167.6,56.8 167.8,51.1 168.1,55.9 168.3,56.4 168.6,55.3 168.8,60.7 169.1,57.3 169.3,57.1 169.6,52.4 169.8,45.6 170.1,48.3 170.3,54.9 170.6,59.1 170.8,52.4 171.1,59.8 171.3,65.2 171.6,55.7 171.8,62.8 172.1,60.2 172.3,63.7 172.6,54.8 172.8,65.6 173.1,76.2 173.3,69.6 173.6,70.2 173.8,66.1 174.1,70.1 174.3,65.1 174.6,50.6 174.8,46.2 175.1,48.9 175.3,44.0 175.6,50.4 175.8,42.8 176.1,53.1 176.3,61.9 176.6,65.3 176.8,57.0 177.1,65.7 177.3,69.7 177.6,62.7 177.8,72.8 178.1,79.7 178.3,86.1 178.6,87.5 178.8,74.5 179.1,60.6 179.3,70.1 179.6,74.8 179.8,67.5 180.1,65.6 180.3,62.4 180.6,61.4 180.8,63.7 181.1,69.4 181.3,60.7 181.6,63.2 181.8,54.5 182.1,58.7 182.3,55.4 182.6,58.3 182.8,66.4 183.1,59.0 183.3,47.6 183.6,45.8 183.8,57.1 184.1,48.4 184.3,49.4 184.6,44.1 184.8,49.6 185.1,43.3 185.3,55.2 185.6,51.9 185.8,44.3 186.1,49.6 186.3,49.6 186.6,49.4 186.8,49.9 187.1,45.2 187.3,42.9 187.6,53.4 187.8,52.9 188.1,51.8 188.3,55.0 188.6,53.9 188.8,61.0 189.1,58.1 189.3,57.6 189.6,58.9 189.8,78.7 190.1,73.5 190.3,70.0 190.6,65.9 190.8,61.0 191.1,73.8 191.3,67.6 191.6,61.7 191.8,53.4 192.1,59.0 192.3,54.4 192.6,58.5 192.8,63.8 193.1,64.8 193.3,59.9 193.6,67.8 193.8,64.7 194.1,54.5 194.3,68.3 194.6,67.8 194.8,63.4 195.1,63.2 195.3,64.8 195.6,56.1 195.8,60.4 196.1,55.1 196.3,49.6 196.6,59.4 196.8,58.5 197.1,64.6 197.3,61.8 197.6,67.9 197.8,80.7 198.1,67.1 198.3,58.0 198.6,56.5 198.8,59.4 199.1,82.9 199.3,76.7 199.6,75.4 199.8,75.5 200.1,77.9 200.3,74.0 200.6,61.5 200.8,59.7 201.1,61.5 201.3,73.6 201.6,77.4 201.8,75.3 202.1,76.1 202.3,76.3 202.6,60.9 202.8,56.4 203.1,59.2 203.3,66.9 203.6,64.8 203.8,58.0 204.1,51.7 204.3,49.1 204.6,57.1 204.8,45.4 205.1,44.1 205.3,47.9 205.6,46.8 205.8,43.4 206.1,47.1 206.3,50.9 206.6,48.9 206.8,45.4 207.1,55.4 207.3,60.4 207.6,55.2 207.8,57.1 208.1,51.6 208.3,49.4 208.6,43.3 208.8,42.9 209.1,54.0 209.3,49.7 209.6,43.7 209.8,51.3 210.1,44.9 210.3,44.5 210.6,43.9 210.8,45.0 211.1,47.5 211.3,54.5 211.6,46.5 211.8,48.8 212.1,46.5 212.3,44.4 212.6,46.6 212.8,45.2 213.1,44.1 213.3,50.0 213.6,58.8 213.8,55.2 214.1,61.0 214.3,63.1 214.6,68.7 214.8,65.3 215.1,68.5 215.3,64.5 215.6,55.5 215.8,52.3 216.1,50.8 216.3,60.8 216.6,58.5 216.8,53.1 217.1,53.2 217.3,59.4 217.6,63.2 217.8,50.5 218.1,55.7 218.3,48.5 218.6,59.3 218.8,70.3 219.1,72.2 219.3,65.2 219.6,60.7 219.8,50.3 220.1,60.4 220.3,60.7 220.6,64.1 220.8,59.0 221.1,58.7 221.3,64.9 221.6,68.4 221.8,68.2 222.1,76.5 222.3,75.2 222.6,74.3 222.8,70.3 223.1,68.3 223.3,70.2 223.6,68.9 223.8,65.3 224.1,75.7 224.3,74.4 224.6,71.1 224.8,82.2 225.1,83.6 225.3,84.9 225.6,83.7 225.8,90.2 226.1,84.1 226.3,88.8" fill="none" stroke="#a4a4e2" stroke-width="1.2"/>
<polyline points="226.3,88.8 228.4,97.2 228.3,93.3 228.5,91.8" fill="none" stroke="#a4a4e2" stroke-width="1.6"/>
<polyline points="228.5,91.8 230.8,102.5 230.9,94.7 230.5,95.5 231.1,101.4 231.2,108.6 232.4,112.0 232.3,115.0 232.9,117.3 232.9,111.6 233.2,133.8 233.5,249.7" fill="none" stroke="#a4a4e2" stroke-width="1.2"/>
<polyline points="62.6,60.6 62.9,59.0 63.1,55.7 63.4,57.0 63.6,51.2 63.9,56.5 64.1,59.1 64.3,61.5 64.6,62.3 64.8,65.1 65.1,56.5 65.3,56.1 65.6,51.1 65.8,47.8 66.1,48.3 66.3,51.2 66.6,53.0 66.8,53.7 67.1,59.7 67.3,55.0 67.6,57.2 67.8,54.0 68.1,51.1 68.3,50.6 68.6,50.0 68.8,57.9 69.1,60.7 69.3,56.5 69.6,61.5 69.8,59.5 70.1,61.7 70.3,59.4 70.6,55.6 70.8,57.0 71.1,56.3 71.3,61.8 71.6,63.7 71.8,72.2 72.1,69.4 72.3,66.5 72.6,67.5 72.8,64.2 73.1,57.4 73.3,52.0 73.6,60.5 73.8,56.4 74.1,60.0 74.3,64.8 74.6,64.0 74.8,62.3 75.1,62.2 75.3,61.6 75.6,55.6 75.8,61.0 76.1,54.1 76.3,60.3 76.6,64.7 76.8,57.9 77.1,72.6 77.3,65.9 77.6,62.9 77.8,61.6 78.1,67.2 78.3,70.1 78.6,68.8 78.8,56.9 79.1,57.0 79.3,62.0 79.6,68.4 79.8,68.9 80.1,63.7 80.3,58.4 80.6,59.0 80.8,59.6 81.1,56.8 81.3,63.4 81.6,60.8 81.8,69.0 82.1,76.4 82.3,72.5 82.6,73.6 82.8,75.5 83.1,74.5 83.3,68.4 83.6,66.4 83.8,67.7 84.1,69.6 84.3,69.3 84.6,66.2 84.8,66.5 85.1,68.6 85.3,68.3 85.6,59.9 85.8,56.1 86.1,54.6 86.3,49.0 86.6,55.2 86.8,53.9 87.1,60.6 87.3,56.8 87.6,48.0 87.8,55.3 88.1,56.9 88.3,59.0 88.6,58.1 88.8,54.3 89.1,55.0 89.3,56.1 89.6,66.1 89.8,67.0 90.1,62.9 90.3,49.5 90.6,48.0 90.8,42.8 91.1,46.2 91.3,55.7 91.6,61.9 91.8,49.2 92.1,54.5 92.3,55.8 92.6,52.6 92.8,49.3 93.1,48.5 93.3,61.9 93.6,62.5 93.8,66.1 94.1,63.6 94.3,75.0 94.6,69.0 94.8,75.3 95.1,69.5 95.3,65.3 95.6,67.8 95.8,72.0 96.1,64.8 96.3,64.9 96.6,57.7 96.8,64.0 97.1,64.8 97.3,64.8 97.6,68.9 97.8,72.3 98.1,64.6 98.3,70.7 98.6,71.4 98.8,70.7 99.1,69.2 99.3,71.0 99.6,57.9 99.8,56.2 100.1,51.7 100.3,75.0 100.6,68.7 100.8,65.2 101.1,51.6 101.3,53.1 101.6,53.9 101.8,71.4 102.1,60.2 102.3,58.7 102.6,60.9 102.8,59.4 103.1,72.1 103.3,61.2 103.6,60.8 103.8,68.6 104.1,70.7 104.3,66.1 104.6,70.8 104.8,65.8 105.1,67.8 105.3,61.5 105.6,56.9 105.8,56.6 106.1,56.0 106.3,60.9 106.6,47.6 106.8,53.9 107.1,69.4 107.3,64.3 107.6,62.2 107.8,66.8 108.1,65.4 108.3,62.1 108.6,60.8 108.8,59.5 109.1,59.2 109.3,63.2 109.6,57.3 109.8,61.4 110.1,66.3 110.3,60.2 110.6,62.8 110.8,57.7 111.1,58.0 111.3,51.2 111.6,54.8 111.8,57.7 112.1,70.7 112.3,73.3 112.6,68.9 112.8,69.6 113.1,67.8 113.3,71.7 113.6,67.5 113.8,76.6 114.1,81.1 114.3,76.0 114.6,79.3 114.8,69.1 115.1,62.5 115.3,59.7 115.6,61.3 115.8,54.7 116.1,72.8 116.3,77.7 116.6,69.1 116.8,59.2 117.1,66.6 117.3,63.2 117.6,57.9 117.8,52.1 118.1,55.6 118.3,67.6 118.6,61.3 118.8,61.1 119.1,67.1 119.3,71.4 119.6,72.5 119.8,65.5 120.1,74.3 120.3,71.6 120.6,53.9 120.8,66.7 121.1,66.9 121.3,58.1 121.6,69.1 121.8,67.6 122.1,60.2 122.3,68.2 122.6,69.7 122.8,55.2 123.1,52.2 123.3,50.1 123.6,53.1 123.8,54.9 124.1,64.2 124.3,62.8 124.6,66.6 124.8,65.1 125.1,59.6 125.3,54.2 125.6,59.2 125.8,62.4 126.1,64.6 126.3,64.9 126.6,67.0 126.8,70.2 127.1,72.5 127.3,65.6 127.6,63.1 127.8,69.5 128.1,59.6 128.3,55.6 128.6,60.4 128.8,59.5 129.1,54.9 129.3,49.2 129.6,54.8 129.8,63.0 130.1,55.2 130.3,48.6 130.6,55.4 130.8,63.8 131.1,60.7 131.3,60.5 131.6,68.4 131.8,61.7 132.1,64.4 132.3,65.1 132.6,56.6 132.8,57.5 133.1,49.0 133.3,44.3 133.6,43.1 133.8,56.5 134.1,62.7 134.3,55.0 134.6,49.6 134.8,47.5 135.1,57.6 135.3,57.8 135.6,56.9 135.8,50.8 136.1,46.5 136.3,43.8 136.6,46.2 136.8,52.7 137.1,59.0 137.3,63.4 137.6,61.1 137.8,66.6 138.1,72.4 138.3,69.6 138.6,74.3 138.8,81.6 139.1,80.7 139.3,88.7 139.6,79.0 139.8,80.6 140.1,76.6 140.3,70.9 140.6,75.5 140.8,68.6 141.1,72.4 141.3,64.9 141.6,65.0 141.8,61.3 142.1,59.1 142.3,60.0 142.6,58.5 142.8,71.8 143.1,68.1 143.3,57.5 143.6,48.4 143.8,64.6 144.1,69.7 144.3,52.2 144.6,54.0 144.8,47.1 145.1,44.0 145.3,58.9 145.6,51.1 145.8,49.6 146.1,48.8 146.3,55.7 146.6,52.4 146.8,46.3 147.1,49.2 147.3,48.6 147.6,56.4 147.8,64.8 148.1,67.8 148.3,65.8 148.6,62.4 148.8,69.0 149.1,70.8 149.3,74.1 149.6,72.0 149.8,84.2 150.1,79.0 150.3,81.1 150.6,79.7 150.8,71.9 151.1,71.1 151.3,65.7 151.6,71.1 151.8,64.5 152.1,66.6 152.3,78.2 152.6,68.1 152.8,74.0 153.1,76.2 153.3,85.9 153.6,87.6 153.8,80.2 154.1,87.1 154.3,75.0 154.6,74.3 154.8,71.2 155.1,72.9 155.3,67.5 155.6,62.0 155.8,67.3 156.1,60.5 156.3,66.3 156.6,67.1 156.8,64.0 157.1,54.5 157.3,57.7 157.6,66.9 157.8,67.4 158.1,57.2 158.3,66.8 158.6,71.2 158.8,61.5 159.1,62.3 159.3,59.8 159.6,48.3 159.8,43.7 160.1,46.6 160.3,48.4 160.6,44.3 160.8,52.8 161.1,50.7 161.3,44.4 161.6,49.4 161.8,50.2 162.1,47.9 162.3,43.4 162.6,63.8 162.8,65.3 163.1,55.8 163.3,53.2 163.6,51.0 163.8,57.7 164.1,62.7 164.3,64.6 164.6,69.8 164.8,49.9 165.1,63.6 165.3,62.0 165.6,66.1 165.8,63.0 166.1,64.1 166.3,56.1 166.6,63.4 166.8,67.0 167.1,80.7 167.3,81.1 167.6,80.5 167.8,82.7 168.1,84.0 168.3,81.6 168.6,81.7 168.8,67.9 169.1,58.9 169.3,60.0 169.6,65.6 169.8,62.8 170.1,71.2 170.3,71.6 170.6,68.8 170.8,66.6 171.1,67.4 171.3,66.8 171.6,69.2 171.8,72.6 172.1,76.8 172.3,82.3 172.6,76.0 172.8,72.5 173.1,62.8 173.3,70.9 173.6,71.8 173.8,68.3 174.1,61.1 174.3,68.1 174.6,64.7 174.8,80.7 175.1,82.4 175.3,86.6 175.6,84.2 175.8,81.6 176.1,81.0 176.3,74.2 176.6,72.6 176.8,68.3 177.1,68.9 177.3,69.5 177.6,61.7 177.8,69.7 178.1,56.2 178.3,57.8 178.6,55.5 178.8,66.7 179.1,64.1 179.3,65.3 179.6,68.0 179.8,65.0 180.1,73.2 180.3,80.5 180.6,72.3 180.8,76.9 181.1,73.3 181.3,80.7 181.6,85.1 181.8,85.3 182.1,81.2 182.3,84.5 182.6,86.4 182.8,84.6 183.1,76.6 183.3,66.3 183.6,73.1 183.8,70.1 184.1,69.3 184.3,61.5 184.6,61.1 184.8,64.9 185.1,52.1 185.3,57.4 185.6,61.8 185.8,43.1 186.1,44.0 186.3,48.4 186.6,43.7 186.8,45.8 187.1,47.8 187.3,53.7 187.6,50.1 187.8,54.8 188.1,56.3 188.3,58.4 188.6,48.8 188.8,53.4 189.1,46.5 189.3,55.5 189.6,47.4 189.8,51.6 190.1,53.4 190.3,54.6 190.6,54.8 190.8,59.1 191.1,59.6 191.3,65.5 191.6,75.9 191.8,64.6 192.1,59.9 192.3,64.2 192.6,60.7 192.8,60.4 193.1,58.5 193.3,60.6 193.6,57.1 193.8,58.5 194.1,56.7 194.3,60.7 194.6,58.0 194.8,57.5 195.1,46.2 195.3,45.4 195.6,52.9 195.8,58.9 196.1,67.8 196.3,81.8 196.6,73.4 196.8,64.7 197.1,71.1 197.3,61.3 197.6,64.8 197.8,73.3 198.1,68.8 198.3,66.9 198.6,62.7 198.8,60.6 199.1,68.6 199.3,72.3 199.6,61.5 199.8,61.6 200.1,58.9 200.3,62.8 200.6,57.3 200.8,57.0 201.1,53.1 201.3,55.4 201.6,50.0 201.8,54.3 202.1,55.6 202.3,60.2 202.6,60.7 202.8,53.7 203.1,54.8 203.3,57.6 203.6,48.2 203.8,56.5 204.1,69.6 204.3,74.5 204.6,63.1 204.8,66.8 205.1,66.4 205.3,62.5 205.6,60.0 205.8,58.2 206.1,50.1 206.3,44.4 206.6,51.8 206.8,54.0 207.1,64.6 207.3,64.9 207.6,55.9 207.8,51.1 208.1,56.6 208.3,52.6 208.6,44.2 208.8,45.3 209.1,42.7 209.3,48.3 209.6,59.8 209.8,66.5 210.1,75.5 210.3,74.8 210.6,55.7 210.8,62.7 211.1,65.4 211.3,61.5 211.6,64.3 211.8,63.9 212.1,58.2 212.3,54.2 212.6,45.8 212.8,43.4 213.1,49.8 213.3,48.3 213.6,49.9 213.8,43.2 214.1,43.2 214.3,42.8 214.6,48.0 214.8,45.7 215.1,47.1 215.3,53.7 215.6,46.0 215.8,44.0 216.1,45.9 216.3,45.3 216.6,46.8 216.8,62.6 217.1,58.8 217.3,62.9 217.6,54.2 217.8,59.6 218.1,53.2 218.3,54.0 218.6,59.7 218.8,59.0 219.1,58.1 219.3,70.7 219.6,65.7 219.8,74.0 220.1,74.0 220.3,70.7 220.6,63.8 220.8,58.7 221.1,48.4 221.3,50.2 221.6,52.5 221.8,58.7 222.1,55.1 222.3,48.5 222.6,50.5 222.8,55.5 223.1,50.8 223.3,58.3 223.6,50.6 223.8,50.2 224.1,50.2 224.3,51.9 224.6,52.0 224.8,48.9 225.1,52.2 225.3,50.1 225.6,51.3 225.8,51.1 226.1,51.0 226.3,53.4 226.6,49.6 226.8,49.7 227.1,48.3 227.3,51.2 227.6,49.0 227.8,52.4 228.1,50.6 228.3,52.1 228.6,52.1 228.8,50.5 229.1,50.7 229.3,55.7 229.6,56.9 229.8,53.4 230.1,56.8 230.3,51.6 230.6,52.8 230.8,51.9 231.1,48.8 231.3,48.3 231.6,51.4 231.8,51.7 232.1,52.7 232.3,57.9 232.6,50.5 232.8,48.8 233.1,60.4 233.3,51.2 233.6,55.9 233.8,48.2 234.1,55.4 234.3,58.6 234.6,68.9 234.8,76.4 235.1,74.9 235.3,70.5 235.6,56.6 235.8,55.3 236.1,49.6 236.3,53.9 236.6,53.2 236.8,55.9 237.1,53.3 237.3,57.9 237.6,57.9 237.8,56.0 238.1,62.8 238.3,58.5 238.6,59.9 238.8,61.1 239.1,65.6 239.3,60.3 239.6,56.6 239.8,59.4 240.1,65.8 240.3,71.7" fill="none" stroke="#c2c2f8" stroke-width="1.2"/>
<polyline points="240.3,71.7 243.1,74.4 241.7,78.2 242.8,82.7" fill="none" stroke="#c2c2f8" stroke-width="1.6"/>
<polyline points="242.8,82.7 245.0,84.0 245.1,78.5 244.4,80.9 246.6,91.4 244.2,93.8 245.3,92.0 246.5,100.4 247.1,100.3 246.3,103.9 247.2,125.0 247.5,249.7" fill="none" stroke="#c2c2f8" stroke-width="1.2"/>
</g>
<line x1="58.9" y1="249.7" x2="305" y2="249.7" stroke="#000" stroke-width="1.4" stroke-dasharray="4.25 2.11"/>
<line x1="61.7" y1="253.8" x2="74.9" y2="253.8" stroke="#8b1a1a" stroke-width="1.5"/>
<line x1="61.7" y1="255.2" x2="72.7" y2="255.2" stroke="#a04040" stroke-width="1.5"/>
<line x1="61.7" y1="256.6" x2="72.3" y2="256.6" stroke="#b05858" stroke-width="1.5"/>
<line x1="61.7" y1="258.0" x2="78.5" y2="258.0" stroke="#c88080" stroke-width="1.5"/>
<line x1="61.7" y1="259.9" x2="83.6" y2="259.9" stroke="#e0a8a8" stroke-width="1.5"/>
<line x1="61.7" y1="261.6" x2="83.1" y2="261.6" stroke="#f4cccc" stroke-width="1.5"/>
<line x1="61.7" y1="274.4" x2="198.9" y2="274.4" stroke="#1c1c8a" stroke-width="1.6"/>
<line x1="61.7" y1="276.4" x2="166.0" y2="276.4" stroke="#30309e" stroke-width="1.6"/>
<line x1="61.7" y1="278.4" x2="303.8" y2="278.4" stroke="#6e6ec2" stroke-width="1.6"/>
<line x1="61.7" y1="280.5" x2="234.4" y2="280.5" stroke="#a4a4e2" stroke-width="1.6"/>
<line x1="61.7" y1="282.5" x2="248.2" y2="282.5" stroke="#c2c2f8" stroke-width="1.6"/>
<line x1="63.88" y1="266.3" x2="76.52000000000001" y2="266.3" stroke="#ff0000" stroke-width="2.4"/>
<polygon points="61.0,266.3 64.6,263.5 64.6,269.1" fill="#ff0000"/>
<polygon points="79.4,266.3 75.80000000000001,263.5 75.80000000000001,269.1" fill="#ff0000"/>
<line x1="63.88" y1="287.0" x2="227.92000000000002" y2="287.0" stroke="#0000ff" stroke-width="2.4"/>
<polygon points="61.0,287.0 64.6,284.2 64.6,289.8" fill="#0000ff"/>
<polygon points="230.8,287.0 227.20000000000002,284.2 227.20000000000002,289.8" fill="#0000ff"/>
<rect x="46.6" y="31" width="270.4" height="267.9" fill="none" stroke="#000" stroke-width="2.2"/>
<line x1="43" y1="42.7" x2="45.5" y2="42.7" stroke="#000" stroke-width="0.8"/>
<line x1="43" y1="146.3" x2="45.5" y2="146.3" stroke="#000" stroke-width="0.8"/>
<line x1="43" y1="249.7" x2="45.5" y2="249.7" stroke="#000" stroke-width="0.8"/>
<line x1="62.4" y1="300" x2="62.4" y2="302.5" stroke="#000" stroke-width="0.8"/>
<line x1="136.8" y1="300" x2="136.8" y2="302.5" stroke="#000" stroke-width="0.8"/>
<line x1="211.2" y1="300" x2="211.2" y2="302.5" stroke="#000" stroke-width="0.8"/>
<line x1="285.8" y1="300" x2="285.8" y2="302.5" stroke="#000" stroke-width="0.8"/>
<path d="M176.8,330.3 L189.2,329.6 M184.6,330 C183.2,334 181.8,337.5 182.2,339.8 C182.6,341.6 184.2,341.8 185.5,341.3" fill="none" stroke="#000" stroke-width="2.3"/>
<rect x="494.8" y="39.30" width="2.50" height="4.5" fill="#93bfdc"/>
<rect x="483.9" y="44.79" width="13.40" height="4.5" fill="#93bfdc"/>
<rect x="460.5" y="50.28" width="36.80" height="4.5" fill="#93bfdc"/>
<rect x="441.3" y="55.77" width="56.00" height="4.5" fill="#93bfdc"/>
<rect x="394" y="61.26" width="103.30" height="4.5" fill="#93bfdc"/>
<rect x="385.4" y="66.75" width="111.90" height="4.5" fill="#93bfdc"/>
<rect x="387.8" y="72.24" width="109.50" height="4.5" fill="#93bfdc"/>
<rect x="379.3" y="77.73" width="118.00" height="4.5" fill="#93bfdc"/>
<rect x="372.8" y="83.22" width="124.50" height="4.5" fill="#93bfdc"/>
<rect x="402.9" y="88.71" width="94.40" height="4.5" fill="#93bfdc"/>
<rect x="405" y="94.20" width="92.30" height="4.5" fill="#93bfdc"/>
<rect x="451.8" y="99.69" width="45.50" height="4.5" fill="#93bfdc"/>
<rect x="443" y="105.18" width="54.30" height="4.5" fill="#93bfdc"/>
<rect x="460.5" y="110.67" width="36.80" height="4.5" fill="#93bfdc"/>
<rect x="473.1" y="116.16" width="24.20" height="4.5" fill="#93bfdc"/>
<rect x="488.4" y="121.65" width="8.90" height="4.5" fill="#93bfdc"/>
<rect x="496.4" y="127.14" width="0.90" height="4.5" fill="#93bfdc"/>
<rect x="492.7" y="132.63" width="4.60" height="4.5" fill="#93bfdc"/>
<rect x="496.4" y="143.61" width="0.90" height="4.5" fill="#93bfdc"/>
<line x1="499.05" y1="22.9" x2="499.05" y2="158.4" stroke="#000" stroke-width="2.2"/>
<line x1="370.9" y1="82.5" x2="498" y2="82.5" stroke="#f0a030" stroke-width="1.4" stroke-dasharray="4.9 1.91"/>
<path d="M477.6,73.3 V91.4 M473.3,73.3 H482 M473.3,91.4 H482" stroke="#e8803a" stroke-width="1.3" fill="none"/>
<rect x="546.4" y="24.1" width="134.7" height="133.7" fill="none" stroke="#000" stroke-width="1.6"/>
<line x1="543.3" y1="33.4" x2="545.7" y2="33.4" stroke="#000" stroke-width="0.8"/>
<line x1="543.3" y1="56.2" x2="545.7" y2="56.2" stroke="#000" stroke-width="0.8"/>
<line x1="543.3" y1="78.9" x2="545.7" y2="78.9" stroke="#000" stroke-width="0.8"/>
<line x1="543.3" y1="101.7" x2="545.7" y2="101.7" stroke="#000" stroke-width="0.8"/>
<line x1="543.3" y1="124.4" x2="545.7" y2="124.4" stroke="#000" stroke-width="0.8"/>
<line x1="543.3" y1="147.2" x2="545.7" y2="147.2" stroke="#000" stroke-width="0.8"/>
<line x1="599.9" y1="158.7" x2="599.9" y2="161" stroke="#000" stroke-width="0.8"/>
<line x1="661.5" y1="158.7" x2="661.5" y2="161" stroke="#000" stroke-width="0.8"/>
<g fill="none" stroke="#3b7bb8" stroke-width="0.85"><circle cx="609.5" cy="43.7" r="2.0"/><circle cx="600.0" cy="51.3" r="2.0"/><circle cx="600.0" cy="55.5" r="2.0"/><circle cx="587.0" cy="58.0" r="2.0"/><circle cx="585.1" cy="60.3" r="2.0"/><circle cx="589.9" cy="60.3" r="2.0"/><circle cx="585.1" cy="63.1" r="2.0"/><circle cx="577.5" cy="65.6" r="2.0"/><circle cx="589.9" cy="66.0" r="2.0"/><circle cx="587.0" cy="69.8" r="2.0"/><circle cx="591.8" cy="68.8" r="2.0"/><circle cx="580.0" cy="74.0" r="2.0"/><circle cx="587.0" cy="75.5" r="2.0"/><circle cx="592.4" cy="75.5" r="2.0"/><circle cx="582.3" cy="78.4" r="2.0"/><circle cx="585.1" cy="82.2" r="2.0"/><circle cx="567.6" cy="84.7" r="2.0"/><circle cx="559.9" cy="87.4" r="2.0"/><circle cx="629.5" cy="39.5" r="2.0"/><circle cx="639.3" cy="38.2" r="2.0"/><circle cx="609.7" cy="43.9" r="2.0"/><circle cx="614.3" cy="45.5" r="2.0"/><circle cx="636.9" cy="47.2" r="2.0"/><circle cx="646.7" cy="45.8" r="2.0"/><circle cx="661.7" cy="48.8" r="2.0"/><circle cx="599.6" cy="51.2" r="2.0"/><circle cx="599.6" cy="60.7" r="2.0"/><circle cx="584.9" cy="62.7" r="2.0"/><circle cx="597.2" cy="133.6" r="2.0"/><circle cx="607.0" cy="129.8" r="2.0"/><circle cx="625.4" cy="137.5" r="2.0"/><circle cx="627.0" cy="137.5" r="2.0"/><circle cx="669.0" cy="94.4" r="2.0"/><circle cx="664.2" cy="83.3" r="2.0"/><circle cx="654.3" cy="116.8" r="2.0"/><circle cx="562.7" cy="97.4" r="2.0"/><circle cx="570.1" cy="101.5" r="2.0"/><circle cx="575.1" cy="98.3" r="2.0"/><circle cx="579.9" cy="97.8" r="2.0"/><circle cx="557.7" cy="108.5" r="2.0"/><circle cx="570.1" cy="120.9" r="2.0"/><circle cx="575.1" cy="119.6" r="2.0"/><circle cx="584.9" cy="93.3" r="2.0"/><circle cx="589.5" cy="92.2" r="2.0"/><circle cx="590.4" cy="97.4" r="2.0"/><circle cx="592.3" cy="108.5" r="2.0"/><circle cx="590.4" cy="114.1" r="2.0"/><circle cx="599.7" cy="117.8" r="2.0"/><circle cx="604.9" cy="120.6" r="2.0"/><circle cx="611.7" cy="120.0" r="2.0"/><circle cx="649.1" cy="119.6" r="2.0"/><circle cx="642.0" cy="120.9" r="2.0"/><circle cx="646.7" cy="123.9" r="2.0"/><circle cx="637.0" cy="123.9" r="2.0"/><circle cx="639.4" cy="125.2" r="2.0"/><circle cx="624.4" cy="148.9" r="2.0"/><circle cx="612.0" cy="120.0" r="2.0"/><circle cx="616.7" cy="123.3" r="2.0"/><circle cx="619.4" cy="124.3" r="2.0"/><circle cx="579.9" cy="73.6" r="2.0"/><circle cx="582.3" cy="78.2" r="2.0"/><circle cx="584.8" cy="82.3" r="2.0"/><circle cx="587.2" cy="74.9" r="2.0"/><circle cx="584.8" cy="93.7" r="2.0"/><circle cx="588.0" cy="94.2" r="2.0"/><circle cx="589.7" cy="82.3" r="2.0"/><circle cx="590.2" cy="97.0" r="2.0"/><circle cx="591.8" cy="99.4" r="2.0"/><circle cx="592.9" cy="87.2" r="2.0"/><circle cx="593.8" cy="106.8" r="2.0"/><circle cx="595.4" cy="109.2" r="2.0"/><circle cx="589.7" cy="114.1" r="2.0"/><circle cx="592.1" cy="115.4" r="2.0"/><circle cx="594.6" cy="105.1" r="2.0"/><circle cx="597.0" cy="99.4" r="2.0"/><circle cx="599.5" cy="112.5" r="2.0"/><circle cx="600.3" cy="117.4" r="2.0"/><circle cx="604.4" cy="120.7" r="2.0"/><circle cx="602.7" cy="105.1" r="2.0"/><circle cx="655.0" cy="60.0" r="2.0"/><circle cx="660.0" cy="66.0" r="2.0"/><circle cx="657.0" cy="72.0" r="2.0"/><circle cx="661.0" cy="78.0" r="2.0"/><circle cx="652.0" cy="52.0" r="2.0"/><circle cx="645.0" cy="56.0" r="2.0"/><circle cx="650.0" cy="100.0" r="2.0"/><circle cx="656.0" cy="104.0" r="2.0"/><circle cx="663.0" cy="90.0" r="2.0"/><circle cx="658.0" cy="95.0" r="2.0"/><circle cx="651.0" cy="110.0" r="2.0"/><circle cx="632.8" cy="98.4" r="2.0"/><circle cx="616.8" cy="107.1" r="2.0"/><circle cx="618.1" cy="107.7" r="2.0"/><circle cx="623.0" cy="85.9" r="2.0"/><circle cx="592.2" cy="90.8" r="2.0"/><circle cx="621.7" cy="82.9" r="2.0"/><circle cx="611.9" cy="55.9" r="2.0"/><circle cx="629.1" cy="90.0" r="2.0"/><circle cx="620.5" cy="69.6" r="2.0"/><circle cx="621.7" cy="116.8" r="2.0"/><circle cx="615.6" cy="51.3" r="2.0"/><circle cx="608.2" cy="72.3" r="2.0"/><circle cx="619.3" cy="101.7" r="2.0"/><circle cx="634.0" cy="69.0" r="2.0"/><circle cx="621.7" cy="59.1" r="2.0"/><circle cx="641.4" cy="54.8" r="2.0"/><circle cx="623.0" cy="66.8" r="2.0"/><circle cx="626.7" cy="109.3" r="2.0"/><circle cx="651.3" cy="88.4" r="2.0"/><circle cx="635.3" cy="90.4" r="2.0"/><circle cx="618.1" cy="70.7" r="2.0"/><circle cx="623.0" cy="96.6" r="2.0"/><circle cx="635.3" cy="82.6" r="2.0"/><circle cx="657.4" cy="63.1" r="2.0"/><circle cx="621.7" cy="72.0" r="2.0"/><circle cx="621.7" cy="84.5" r="2.0"/><circle cx="642.6" cy="102.9" r="2.0"/><circle cx="611.9" cy="79.5" r="2.0"/><circle cx="621.7" cy="90.1" r="2.0"/><circle cx="635.3" cy="65.5" r="2.0"/><circle cx="627.9" cy="57.1" r="2.0"/><circle cx="636.5" cy="99.3" r="2.0"/><circle cx="642.6" cy="78.8" r="2.0"/><circle cx="610.7" cy="85.7" r="2.0"/><circle cx="598.4" cy="74.4" r="2.0"/><circle cx="630.4" cy="90.5" r="2.0"/><circle cx="637.7" cy="74.3" r="2.0"/><circle cx="618.1" cy="95.9" r="2.0"/><circle cx="608.2" cy="58.4" r="2.0"/><circle cx="626.7" cy="65.1" r="2.0"/><circle cx="625.4" cy="82.9" r="2.0"/><circle cx="648.8" cy="71.7" r="2.0"/><circle cx="637.7" cy="93.9" r="2.0"/><circle cx="629.1" cy="79.9" r="2.0"/><circle cx="643.9" cy="70.4" r="2.0"/><circle cx="623.0" cy="84.7" r="2.0"/><circle cx="610.7" cy="70.7" r="2.0"/><circle cx="635.3" cy="51.1" r="2.0"/><circle cx="635.3" cy="59.1" r="2.0"/><circle cx="623.0" cy="65.5" r="2.0"/><circle cx="613.1" cy="71.8" r="2.0"/><circle cx="630.4" cy="82.6" r="2.0"/><circle cx="637.7" cy="91.2" r="2.0"/><circle cx="634.0" cy="114.6" r="2.0"/><circle cx="598.4" cy="105.0" r="2.0"/><circle cx="626.7" cy="77.2" r="2.0"/><circle cx="610.7" cy="112.2" r="2.0"/><circle cx="639.0" cy="103.3" r="2.0"/><circle cx="592.2" cy="72.2" r="2.0"/><circle cx="610.7" cy="86.8" r="2.0"/><circle cx="637.7" cy="101.6" r="2.0"/><circle cx="645.1" cy="85.4" r="2.0"/><circle cx="618.1" cy="88.4" r="2.0"/><circle cx="631.6" cy="94.2" r="2.0"/><circle cx="615.6" cy="74.8" r="2.0"/><circle cx="652.5" cy="88.1" r="2.0"/><circle cx="605.8" cy="74.0" r="2.0"/><circle cx="631.6" cy="93.7" r="2.0"/><circle cx="608.2" cy="48.8" r="2.0"/><circle cx="648.8" cy="87.3" r="2.0"/><circle cx="625.4" cy="104.6" r="2.0"/><circle cx="619.3" cy="91.9" r="2.0"/><circle cx="597.1" cy="80.4" r="2.0"/><circle cx="653.7" cy="91.1" r="2.0"/><circle cx="639.0" cy="64.8" r="2.0"/><circle cx="639.0" cy="65.1" r="2.0"/><circle cx="645.1" cy="74.1" r="2.0"/><circle cx="631.6" cy="78.1" r="2.0"/><circle cx="615.6" cy="99.3" r="2.0"/><circle cx="613.1" cy="63.9" r="2.0"/><circle cx="613.1" cy="99.9" r="2.0"/><circle cx="648.8" cy="51.0" r="2.0"/><circle cx="602.1" cy="65.9" r="2.0"/><circle cx="615.6" cy="80.2" r="2.0"/><circle cx="620.5" cy="102.9" r="2.0"/><circle cx="629.1" cy="69.2" r="2.0"/><circle cx="605.8" cy="88.9" r="2.0"/><circle cx="597.1" cy="80.3" r="2.0"/><circle cx="625.4" cy="60.3" r="2.0"/><circle cx="646.3" cy="61.1" r="2.0"/><circle cx="639.0" cy="67.7" r="2.0"/><circle cx="629.1" cy="82.7" r="2.0"/><circle cx="620.5" cy="93.5" r="2.0"/><circle cx="630.4" cy="52.8" r="2.0"/><circle cx="639.0" cy="80.2" r="2.0"/><circle cx="613.1" cy="73.8" r="2.0"/><circle cx="627.9" cy="93.7" r="2.0"/><circle cx="624.2" cy="82.9" r="2.0"/><circle cx="629.1" cy="101.7" r="2.0"/><circle cx="651.3" cy="73.4" r="2.0"/><circle cx="651.3" cy="71.4" r="2.0"/><circle cx="592.2" cy="74.4" r="2.0"/><circle cx="620.5" cy="93.6" r="2.0"/><circle cx="615.6" cy="68.6" r="2.0"/><circle cx="635.3" cy="111.5" r="2.0"/><circle cx="645.1" cy="78.1" r="2.0"/><circle cx="643.9" cy="98.9" r="2.0"/><circle cx="609.4" cy="63.0" r="2.0"/><circle cx="613.1" cy="92.2" r="2.0"/><circle cx="626.7" cy="81.0" r="2.0"/><circle cx="636.5" cy="80.6" r="2.0"/><circle cx="659.9" cy="88.4" r="2.0"/><circle cx="623.0" cy="69.4" r="2.0"/><circle cx="639.0" cy="77.6" r="2.0"/><circle cx="629.1" cy="54.9" r="2.0"/><circle cx="637.7" cy="104.8" r="2.0"/><circle cx="648.8" cy="63.1" r="2.0"/><circle cx="608.2" cy="67.2" r="2.0"/><circle cx="623.0" cy="107.3" r="2.0"/><circle cx="613.1" cy="100.9" r="2.0"/><circle cx="651.3" cy="70.8" r="2.0"/><circle cx="636.5" cy="70.7" r="2.0"/><circle cx="620.5" cy="79.2" r="2.0"/><circle cx="618.1" cy="62.6" r="2.0"/><circle cx="634.0" cy="91.2" r="2.0"/><circle cx="614.4" cy="83.5" r="2.0"/><circle cx="610.7" cy="83.2" r="2.0"/><circle cx="634.0" cy="95.1" r="2.0"/><circle cx="621.7" cy="115.7" r="2.0"/><circle cx="616.8" cy="109.6" r="2.0"/><circle cx="607.0" cy="48.2" r="2.0"/><circle cx="604.5" cy="97.8" r="2.0"/><circle cx="635.3" cy="59.5" r="2.0"/><circle cx="640.2" cy="53.6" r="2.0"/><circle cx="626.7" cy="94.2" r="2.0"/><circle cx="631.6" cy="67.4" r="2.0"/><circle cx="627.9" cy="74.7" r="2.0"/><circle cx="627.9" cy="101.1" r="2.0"/><circle cx="600.8" cy="68.1" r="2.0"/><circle cx="618.1" cy="63.7" r="2.0"/><circle cx="627.9" cy="86.9" r="2.0"/><circle cx="613.1" cy="104.0" r="2.0"/><circle cx="618.1" cy="90.8" r="2.0"/><circle cx="611.9" cy="51.2" r="2.0"/><circle cx="620.5" cy="68.4" r="2.0"/><circle cx="640.2" cy="77.8" r="2.0"/><circle cx="619.3" cy="117.4" r="2.0"/><circle cx="623.0" cy="97.7" r="2.0"/><circle cx="639.0" cy="96.9" r="2.0"/><circle cx="636.5" cy="103.6" r="2.0"/><circle cx="653.7" cy="74.9" r="2.0"/><circle cx="591.0" cy="89.8" r="2.0"/><circle cx="640.2" cy="90.0" r="2.0"/><circle cx="618.1" cy="62.2" r="2.0"/><circle cx="627.9" cy="80.4" r="2.0"/><circle cx="640.2" cy="91.4" r="2.0"/><circle cx="643.9" cy="60.2" r="2.0"/><circle cx="642.6" cy="96.1" r="2.0"/><circle cx="629.1" cy="95.1" r="2.0"/><circle cx="652.5" cy="100.4" r="2.0"/><circle cx="621.7" cy="66.0" r="2.0"/><circle cx="624.2" cy="82.8" r="2.0"/><circle cx="639.0" cy="108.3" r="2.0"/><circle cx="616.8" cy="95.8" r="2.0"/><circle cx="642.6" cy="85.0" r="2.0"/><circle cx="625.4" cy="79.3" r="2.0"/><circle cx="619.3" cy="88.0" r="2.0"/><circle cx="637.7" cy="80.0" r="2.0"/><circle cx="616.8" cy="78.7" r="2.0"/><circle cx="632.8" cy="61.6" r="2.0"/><circle cx="625.4" cy="68.2" r="2.0"/><circle cx="615.6" cy="78.0" r="2.0"/><circle cx="642.6" cy="58.1" r="2.0"/><circle cx="615.6" cy="62.9" r="2.0"/><circle cx="610.7" cy="80.7" r="2.0"/><circle cx="614.4" cy="95.2" r="2.0"/><circle cx="605.8" cy="66.5" r="2.0"/><circle cx="627.9" cy="94.1" r="2.0"/><circle cx="642.6" cy="71.3" r="2.0"/><circle cx="629.1" cy="87.3" r="2.0"/><circle cx="636.5" cy="90.4" r="2.0"/><circle cx="652.5" cy="92.0" r="2.0"/><circle cx="630.4" cy="72.3" r="2.0"/><circle cx="629.1" cy="77.2" r="2.0"/><circle cx="621.7" cy="90.0" r="2.0"/><circle cx="599.6" cy="55.8" r="2.0"/><circle cx="639.0" cy="83.6" r="2.0"/><circle cx="597.1" cy="90.1" r="2.0"/><circle cx="636.5" cy="100.1" r="2.0"/><circle cx="625.4" cy="79.6" r="2.0"/><circle cx="645.1" cy="76.7" r="2.0"/><circle cx="625.4" cy="82.9" r="2.0"/><circle cx="611.9" cy="66.3" r="2.0"/><circle cx="631.6" cy="76.2" r="2.0"/><circle cx="616.8" cy="87.9" r="2.0"/><circle cx="623.0" cy="85.5" r="2.0"/><circle cx="626.7" cy="60.3" r="2.0"/><circle cx="624.2" cy="73.9" r="2.0"/><circle cx="611.9" cy="95.2" r="2.0"/><circle cx="623.0" cy="69.9" r="2.0"/><circle cx="591.0" cy="84.5" r="2.0"/><circle cx="623.0" cy="59.1" r="2.0"/><circle cx="605.8" cy="78.3" r="2.0"/><circle cx="643.9" cy="88.4" r="2.0"/><circle cx="646.3" cy="98.5" r="2.0"/><circle cx="627.9" cy="95.8" r="2.0"/><circle cx="624.2" cy="76.7" r="2.0"/><circle cx="608.2" cy="65.0" r="2.0"/><circle cx="635.3" cy="88.8" r="2.0"/><circle cx="618.1" cy="74.1" r="2.0"/><circle cx="597.1" cy="74.1" r="2.0"/><circle cx="621.7" cy="66.3" r="2.0"/><circle cx="623.0" cy="83.9" r="2.0"/><circle cx="627.9" cy="80.4" r="2.0"/><circle cx="605.8" cy="76.4" r="2.0"/><circle cx="636.5" cy="61.5" r="2.0"/><circle cx="637.7" cy="69.9" r="2.0"/><circle cx="607.0" cy="87.3" r="2.0"/><circle cx="615.6" cy="103.9" r="2.0"/><circle cx="624.2" cy="79.1" r="2.0"/><circle cx="616.8" cy="106.5" r="2.0"/><circle cx="655.0" cy="79.4" r="2.0"/><circle cx="629.1" cy="58.9" r="2.0"/><circle cx="609.4" cy="91.6" r="2.0"/><circle cx="613.1" cy="61.3" r="2.0"/><circle cx="625.4" cy="87.3" r="2.0"/><circle cx="623.0" cy="73.8" r="2.0"/><circle cx="627.9" cy="77.9" r="2.0"/><circle cx="625.4" cy="84.2" r="2.0"/><circle cx="616.8" cy="94.5" r="2.0"/><circle cx="637.7" cy="77.8" r="2.0"/><circle cx="629.1" cy="78.0" r="2.0"/><circle cx="636.5" cy="86.9" r="2.0"/><circle cx="624.2" cy="59.4" r="2.0"/><circle cx="626.7" cy="59.2" r="2.0"/><circle cx="610.7" cy="89.9" r="2.0"/><circle cx="614.4" cy="80.2" r="2.0"/><circle cx="635.3" cy="55.9" r="2.0"/><circle cx="642.6" cy="83.7" r="2.0"/><circle cx="639.0" cy="58.0" r="2.0"/><circle cx="646.3" cy="66.4" r="2.0"/><circle cx="637.7" cy="51.1" r="2.0"/><circle cx="626.7" cy="64.0" r="2.0"/><circle cx="640.2" cy="87.2" r="2.0"/><circle cx="635.3" cy="82.0" r="2.0"/><circle cx="624.2" cy="85.5" r="2.0"/><circle cx="637.7" cy="97.2" r="2.0"/><circle cx="647.6" cy="78.8" r="2.0"/><circle cx="630.4" cy="67.1" r="2.0"/><circle cx="620.5" cy="74.4" r="2.0"/><circle cx="637.7" cy="110.9" r="2.0"/><circle cx="657.4" cy="80.3" r="2.0"/><circle cx="623.0" cy="85.7" r="2.0"/><circle cx="624.2" cy="77.8" r="2.0"/><circle cx="624.2" cy="84.3" r="2.0"/><circle cx="646.3" cy="87.8" r="2.0"/><circle cx="595.9" cy="79.5" r="2.0"/><circle cx="631.6" cy="76.7" r="2.0"/><circle cx="645.1" cy="64.8" r="2.0"/><circle cx="613.1" cy="63.6" r="2.0"/><circle cx="650.0" cy="87.4" r="2.0"/><circle cx="635.3" cy="93.8" r="2.0"/><circle cx="616.8" cy="97.2" r="2.0"/><circle cx="629.1" cy="80.7" r="2.0"/><circle cx="600.8" cy="64.0" r="2.0"/><circle cx="616.8" cy="91.6" r="2.0"/><circle cx="656.2" cy="91.3" r="2.0"/><circle cx="610.7" cy="51.2" r="2.0"/><circle cx="656.2" cy="94.9" r="2.0"/><circle cx="624.2" cy="90.7" r="2.0"/><circle cx="642.6" cy="111.2" r="2.0"/><circle cx="626.7" cy="58.3" r="2.0"/><circle cx="616.8" cy="94.6" r="2.0"/><circle cx="629.1" cy="45.6" r="2.0"/><circle cx="607.0" cy="65.8" r="2.0"/><circle cx="603.3" cy="59.0" r="2.0"/><circle cx="631.6" cy="60.5" r="2.0"/><circle cx="615.6" cy="43.6" r="2.0"/><circle cx="598.4" cy="75.2" r="2.0"/><circle cx="614.4" cy="98.2" r="2.0"/><circle cx="640.2" cy="88.1" r="2.0"/><circle cx="618.1" cy="88.2" r="2.0"/><circle cx="641.4" cy="73.0" r="2.0"/><circle cx="651.3" cy="107.1" r="2.0"/><circle cx="626.7" cy="89.7" r="2.0"/><circle cx="607.0" cy="99.7" r="2.0"/><circle cx="604.5" cy="50.4" r="2.0"/><circle cx="625.4" cy="86.3" r="2.0"/><circle cx="640.2" cy="58.1" r="2.0"/><circle cx="630.4" cy="86.4" r="2.0"/><circle cx="635.3" cy="83.6" r="2.0"/><circle cx="619.3" cy="58.5" r="2.0"/><circle cx="630.4" cy="83.2" r="2.0"/><circle cx="618.1" cy="101.8" r="2.0"/><circle cx="620.5" cy="89.4" r="2.0"/><circle cx="604.5" cy="91.1" r="2.0"/><circle cx="599.6" cy="63.6" r="2.0"/><circle cx="618.1" cy="67.1" r="2.0"/><circle cx="608.2" cy="58.9" r="2.0"/><circle cx="610.7" cy="82.4" r="2.0"/><circle cx="636.5" cy="102.5" r="2.0"/><circle cx="624.2" cy="88.2" r="2.0"/><circle cx="641.4" cy="58.8" r="2.0"/><circle cx="615.6" cy="88.4" r="2.0"/><circle cx="639.0" cy="75.5" r="2.0"/><circle cx="631.6" cy="43.9" r="2.0"/><circle cx="614.4" cy="47.3" r="2.0"/><circle cx="643.9" cy="73.6" r="2.0"/><circle cx="613.1" cy="63.1" r="2.0"/><circle cx="639.0" cy="80.7" r="2.0"/><circle cx="615.6" cy="60.4" r="2.0"/><circle cx="650.0" cy="70.8" r="2.0"/><circle cx="615.6" cy="110.2" r="2.0"/><circle cx="607.0" cy="62.1" r="2.0"/><circle cx="651.3" cy="94.6" r="2.0"/><circle cx="608.2" cy="88.3" r="2.0"/><circle cx="629.1" cy="107.8" r="2.0"/><circle cx="650.0" cy="90.1" r="2.0"/><circle cx="627.9" cy="72.5" r="2.0"/><circle cx="624.2" cy="90.0" r="2.0"/><circle cx="627.9" cy="81.3" r="2.0"/><circle cx="640.2" cy="98.5" r="2.0"/><circle cx="613.1" cy="78.9" r="2.0"/><circle cx="636.5" cy="117.5" r="2.0"/><circle cx="635.3" cy="78.2" r="2.0"/><circle cx="620.5" cy="67.7" r="2.0"/><circle cx="610.7" cy="82.5" r="2.0"/><circle cx="637.7" cy="80.7" r="2.0"/><circle cx="619.3" cy="83.4" r="2.0"/><circle cx="630.4" cy="97.2" r="2.0"/><circle cx="627.9" cy="70.0" r="2.0"/><circle cx="645.1" cy="64.2" r="2.0"/><circle cx="615.6" cy="101.2" r="2.0"/><circle cx="624.2" cy="74.8" r="2.0"/><circle cx="611.9" cy="102.1" r="2.0"/><circle cx="651.3" cy="95.0" r="2.0"/><circle cx="614.4" cy="73.1" r="2.0"/><circle cx="605.8" cy="95.1" r="2.0"/><circle cx="635.3" cy="96.1" r="2.0"/><circle cx="629.1" cy="70.6" r="2.0"/><circle cx="607.0" cy="109.9" r="2.0"/><circle cx="636.5" cy="65.3" r="2.0"/><circle cx="630.4" cy="76.0" r="2.0"/><circle cx="639.0" cy="82.8" r="2.0"/><circle cx="615.6" cy="80.3" r="2.0"/><circle cx="655.0" cy="95.6" r="2.0"/><circle cx="632.8" cy="99.7" r="2.0"/><circle cx="624.2" cy="79.6" r="2.0"/><circle cx="618.1" cy="106.8" r="2.0"/><circle cx="621.7" cy="67.5" r="2.0"/><circle cx="640.2" cy="76.4" r="2.0"/><circle cx="621.7" cy="113.0" r="2.0"/><circle cx="643.9" cy="82.3" r="2.0"/><circle cx="635.3" cy="100.7" r="2.0"/><circle cx="648.8" cy="72.3" r="2.0"/><circle cx="639.0" cy="75.5" r="2.0"/><circle cx="625.4" cy="78.5" r="2.0"/><circle cx="594.7" cy="83.8" r="2.0"/><circle cx="630.4" cy="74.1" r="2.0"/><circle cx="639.0" cy="80.9" r="2.0"/><circle cx="629.1" cy="93.2" r="2.0"/><circle cx="635.3" cy="103.4" r="2.0"/><circle cx="618.1" cy="82.6" r="2.0"/><circle cx="619.3" cy="92.9" r="2.0"/><circle cx="610.7" cy="97.8" r="2.0"/><circle cx="648.8" cy="60.3" r="2.0"/><circle cx="629.1" cy="50.9" r="2.0"/><circle cx="618.1" cy="111.2" r="2.0"/><circle cx="604.5" cy="105.6" r="2.0"/><circle cx="623.0" cy="81.7" r="2.0"/><circle cx="650.0" cy="87.3" r="2.0"/><circle cx="634.0" cy="62.8" r="2.0"/><circle cx="614.4" cy="54.5" r="2.0"/><circle cx="650.0" cy="86.6" r="2.0"/><circle cx="650.0" cy="52.5" r="2.0"/><circle cx="642.6" cy="97.9" r="2.0"/><circle cx="639.0" cy="67.8" r="2.0"/><circle cx="645.1" cy="86.1" r="2.0"/><circle cx="635.3" cy="117.2" r="2.0"/><circle cx="639.0" cy="116.3" r="2.0"/></g>
<rect x="364.1" y="204.6" width="135.1" height="134.1" fill="none" stroke="#000" stroke-width="1.8"/>
<line x1="361" y1="204.5" x2="363.3" y2="204.5" stroke="#000" stroke-width="0.8"/>
<line x1="361" y1="238.0" x2="363.3" y2="238.0" stroke="#000" stroke-width="0.8"/>
<line x1="361" y1="271.6" x2="363.3" y2="271.6" stroke="#000" stroke-width="0.8"/>
<line x1="361" y1="305.1" x2="363.3" y2="305.1" stroke="#000" stroke-width="0.8"/>
<line x1="361" y1="338.7" x2="363.3" y2="338.7" stroke="#000" stroke-width="0.8"/>
<line x1="369.8" y1="339.8" x2="369.8" y2="342" stroke="#000" stroke-width="0.8"/>
<line x1="418.2" y1="339.8" x2="418.2" y2="342" stroke="#000" stroke-width="0.8"/>
<line x1="466.6" y1="339.8" x2="466.6" y2="342" stroke="#000" stroke-width="0.8"/>
<g opacity="0.35">
<polyline points="458.2,234.1 460.1,244.4 461.9,261.9 463.9,307.9" fill="none" stroke="#80208a" stroke-width="1.0"/>
<circle cx="460.1" cy="244.4" r="1.1" fill="#80208a"/>
<circle cx="461.9" cy="261.9" r="1.1" fill="#80208a"/>
<circle cx="463.9" cy="307.9" r="1.1" fill="#80208a"/>
</g>
<g opacity="0.35">
<polyline points="464.2,234.2 466.0,243.9 468.0,274.9 469.9,321.8" fill="none" stroke="#2e9a2e" stroke-width="1.0"/>
<circle cx="466" cy="243.9" r="1.1" fill="#2e9a2e"/>
<circle cx="468" cy="274.9" r="1.1" fill="#2e9a2e"/>
<circle cx="469.9" cy="321.8" r="1.1" fill="#2e9a2e"/>
</g>
<g opacity="0.35">
<polyline points="477.6,242.6 479.1,255.3 481.4,296.1 483.2,334.8" fill="none" stroke="#ffa020" stroke-width="1.0"/>
<circle cx="479.1" cy="255.3" r="1.1" fill="#ffa020"/>
<circle cx="481.4" cy="296.1" r="1.1" fill="#ffa020"/>
<circle cx="483.2" cy="334.8" r="1.1" fill="#ffa020"/>
</g>
<g opacity="0.35">
<polyline points="477.3,242.3 479.4,259.4 481.4,304.3 483.2,334.8" fill="none" stroke="#ff1a1a" stroke-width="1.0"/>
<circle cx="479.4" cy="259.4" r="1.1" fill="#ff1a1a"/>
<circle cx="481.4" cy="304.3" r="1.1" fill="#ff1a1a"/>
<circle cx="483.2" cy="334.8" r="1.1" fill="#ff1a1a"/>
</g>
<g opacity="0.35">
<polyline points="487.3,240.6 488.9,250.9 490.8,282.6 492.8,324.2" fill="none" stroke="#1010ff" stroke-width="1.0"/>
<circle cx="488.9" cy="250.9" r="1.1" fill="#1010ff"/>
<circle cx="490.8" cy="282.6" r="1.1" fill="#1010ff"/>
<circle cx="492.8" cy="324.2" r="1.1" fill="#1010ff"/>
</g>
<polyline points="369.5,210.7 372.4,211.7 375.3,212.3 378.2,209.7 381.1,212.5 384.0,211.7 386.9,212.6 389.8,211.7 392.7,213.2 395.6,209.8 398.5,214.1 401.4,213.2 404.3,210.3 407.2,212.4 410.1,212.0 413.0,208.5 415.9,212.3 418.8,210.4 421.7,210.9 425.0,214.7 428.1,212.9 432.4,211.6 436.0,212.3 439.7,218.4 442.2,212.3 444.6,209.2 447.1,212.3 449.5,220.8 452.0,222.1 455.6,218.4 458.7,219.0 461.8,217.8 465.4,212.3 467.9,217.2 471.6,221.4 474.0,224.5 475.2,231.9 476.5,239.2 477.6,242.6" fill="none" stroke="#ffa020" stroke-width="1.9" stroke-linejoin="round"/>
<polyline points="369.5,212.4 372.4,212.1 375.3,211.0 378.2,213.5 381.1,210.0 384.0,208.3 386.9,213.5 389.8,211.7 392.7,207.9 395.6,209.4 398.5,210.1 401.4,209.0 404.3,213.0 407.2,211.5 410.1,210.4 413.0,211.7 415.9,210.7 418.8,211.3 421.7,210.0 425.0,211.6 427.5,214.7 430.5,212.3 434.2,213.5 435.4,219.6 437.3,222.7 439.7,221.4 441.5,219.0 444.6,220.8 448.3,221.4 451.3,219.6 453.8,221.4 455.6,225.7 458.1,228.8 460.5,230.0 462.4,231.9 464.2,234.2" fill="none" stroke="#2e9a2e" stroke-width="1.9" stroke-linejoin="round"/>
<polyline points="369.3,208.2 372.1,207.7 374.5,209.6 378.3,210.1 381.6,209.6 384.0,213.4 386.8,212.4 389.7,213.9 393.0,212.0 395.8,211.5 398.7,213.4 401.5,210.5 404.8,211.0 408.2,215.3 411.5,212.4 414.8,211.5 418.1,209.6 421.9,211.0 425.7,213.4 428.7,211.6 431.7,209.8 434.8,211.6 437.3,211.0 440.9,212.3 444.6,210.4 448.3,211.6 452.6,209.2 456.9,209.8 458.7,209.2 461.8,214.7 464.8,215.9 467.9,220.8 471.0,225.7 474.0,235.5 476.5,236.8 477.3,242.3" fill="none" stroke="#ff1a1a" stroke-width="1.9" stroke-linejoin="round"/>
<polyline points="369.5,207.5 372.4,209.3 375.3,210.8 378.2,210.1 381.1,208.0 384.0,207.2 386.9,209.9 389.8,210.8 392.7,212.4 395.6,210.3 398.5,208.6 401.4,209.1 404.3,211.3 407.2,208.1 410.1,210.3 413.0,210.5 415.9,208.5 418.8,210.2 421.7,208.6 425.0,217.2 428.1,214.1 431.7,212.9 434.8,214.7 438.5,215.3 442.2,218.4 444.6,221.4 447.7,222.1 450.1,220.8 452.6,223.9 455.0,225.1 456.9,229.4 458.2,234.1" fill="none" stroke="#80208a" stroke-width="1.9" stroke-linejoin="round"/>
<polyline points="369.3,209.1 371.6,207.2 374.5,209.1 377.3,209.6 380.2,209.1 383.5,211.0 386.3,211.5 389.7,209.1 393.0,207.7 395.4,211.0 398.2,209.6 400.6,208.6 403.0,215.3 405.8,213.4 408.6,213.4 411.5,209.1 413.4,212.4 416.2,219.1 419.6,216.7 421.9,218.6 423.8,224.3 425.7,219.1 428.7,218.4 432.4,214.7 436.0,211.6 439.1,209.8 442.2,217.2 445.2,220.2 448.3,221.4 451.3,218.4 453.8,215.3 456.9,211.6 459.9,210.4 461.8,211.6 464.2,211.0 466.7,217.2 469.7,209.8 471.6,212.3 474.0,212.3 476.5,220.8 478.9,229.4 481.4,232.5 483.8,231.2 487.3,240.6" fill="none" stroke="#1010ff" stroke-width="1.9" stroke-linejoin="round"/>
<circle cx="458.2" cy="234.1" r="2.1" fill="#80208a"/>
<circle cx="464.2" cy="234.2" r="2.1" fill="#2e9a2e"/>
<circle cx="477.3" cy="242.3" r="2.1" fill="#ff1a1a"/>
<circle cx="477.6" cy="242.6" r="2.1" fill="#ffa020"/>
<circle cx="487.3" cy="240.6" r="2.1" fill="#1010ff"/>
<rect x="446.8" y="225.1" width="47.9" height="32.8" fill="none" stroke="#000" stroke-width="1.5"/>
<line x1="484.1" y1="222.5" x2="491.0" y2="213.3" stroke="#000" stroke-width="1.7"/>
<polygon points="494.8,208.6 488.2,211.2 492.9,215.0" fill="#000"/>
<rect x="558.30" y="205.5" width="4.5" height="4.20" fill="#93bfdc"/>
<rect x="563.86" y="205.5" width="4.5" height="1.10" fill="#93bfdc"/>
<rect x="569.42" y="205.5" width="4.5" height="2.30" fill="#93bfdc"/>
<rect x="574.98" y="205.5" width="4.5" height="4.20" fill="#93bfdc"/>
<rect x="580.54" y="205.5" width="4.5" height="10.40" fill="#93bfdc"/>
<rect x="586.10" y="205.5" width="4.5" height="18.50" fill="#93bfdc"/>
<rect x="591.66" y="205.5" width="4.5" height="24.70" fill="#93bfdc"/>
<rect x="597.22" y="205.5" width="4.5" height="43.80" fill="#93bfdc"/>
<rect x="602.78" y="205.5" width="4.5" height="69.20" fill="#93bfdc"/>
<rect x="608.34" y="205.5" width="4.5" height="61.00" fill="#93bfdc"/>
<rect x="613.90" y="205.5" width="4.5" height="80.00" fill="#93bfdc"/>
<rect x="619.46" y="205.5" width="4.5" height="84.90" fill="#93bfdc"/>
<rect x="625.02" y="205.5" width="4.5" height="124.90" fill="#93bfdc"/>
<rect x="630.58" y="205.5" width="4.5" height="67.10" fill="#93bfdc"/>
<rect x="636.14" y="205.5" width="4.5" height="65.70" fill="#93bfdc"/>
<rect x="641.70" y="205.5" width="4.5" height="48.40" fill="#93bfdc"/>
<rect x="647.26" y="205.5" width="4.5" height="46.70" fill="#93bfdc"/>
<rect x="652.82" y="205.5" width="4.5" height="11.60" fill="#93bfdc"/>
<rect x="658.38" y="205.5" width="4.5" height="5.40" fill="#93bfdc"/>
<rect x="663.94" y="205.5" width="4.5" height="3.90" fill="#93bfdc"/>
<line x1="621.4" y1="204.4" x2="621.4" y2="332.7" stroke="#f0a030" stroke-width="1.4" stroke-dasharray="4.7 2.17"/>
<line x1="545.2" y1="205" x2="680" y2="205" stroke="#000" stroke-width="2"/>
<path d="M612.3,220.6 H630.6 M612.3,216.4 V224.8 M630.6,216.4 V224.8" stroke="#e8803a" stroke-width="1.3" fill="none"/>
<g transform="translate(27.54,18.45) scale(1.1563,0.9933)"><text font-family="Liberation Sans" font-size="16" font-weight="bold" fill="#000">Estimation of convergence time</text></g>
<g transform="translate(327.94,18.45) scale(1.1555,0.9933)"><text font-family="Liberation Sans" font-size="16" font-weight="bold" fill="#000">Estimation of single-trajectory variances</text></g>
<g transform="translate(10.00,48.97) scale(1.1161,1.0323)"><text font-family="Liberation Sans" font-size="16.5" fill="#1a1a1a">100</text></g>
<g transform="translate(20.41,152.37) scale(1.1036,1.0237)"><text font-family="Liberation Sans" font-size="16.5" fill="#1a1a1a">50</text></g>
<g transform="translate(30.51,255.67) scale(1.1048,1.0323)"><text font-family="Liberation Sans" font-size="16.5" fill="#1a1a1a">0</text></g>
<g transform="translate(57.63,316.77) scale(1.0667,1.0323)"><text font-family="Liberation Sans" font-size="16.5" fill="#1a1a1a">0</text></g>
<g transform="translate(110.61,316.77) scale(1.1905,1.0202)"><text font-family="Liberation Sans" font-size="16.5" fill="#1a1a1a">2×10<tspan font-size="11.6" dy="-5.5">5</tspan></text></g>
<g transform="translate(185.61,316.77) scale(1.1766,1.0202)"><text font-family="Liberation Sans" font-size="16.5" fill="#1a1a1a">4×10<tspan font-size="11.6" dy="-5.5">5</tspan></text></g>
<g transform="translate(259.61,316.77) scale(1.1905,1.0202)"><text font-family="Liberation Sans" font-size="16.5" fill="#1a1a1a">6×10<tspan font-size="11.6" dy="-5.5">5</tspan></text></g>
<g transform="translate(13.90,154.85) scale(1.0667,1.1102) rotate(-90)"><text font-family="Liberation Sans" font-size="17.5" font-weight="bold" fill="#000">M</text></g>
<g transform="translate(221.37,43.74) scale(1.0963,0.9684)"><text font-family="Liberation Sans" font-size="13" fill="#3333f5"><tspan font-style="italic">T</tspan> − <tspan font-style="italic">T</tspan><tspan font-style="italic" font-size="9.2" dy="2.6">c</tspan><tspan dy="-2.6"> = 0.005</tspan></text></g>
<g transform="translate(82.37,173.74) scale(1.0914,0.9684)"><text font-family="Liberation Sans" font-size="13" fill="#f53333"><tspan font-style="italic">T</tspan> − <tspan font-style="italic">T</tspan><tspan font-style="italic" font-size="9.2" dy="2.6">c</tspan><tspan dy="-2.6"> = 0.015</tspan></text></g>
<g transform="translate(87.55,271.13) scale(1.4000,1.0815)"><text font-family="Liberation Sans" font-size="12" font-style="italic" fill="#f53333" stroke="#f53333" stroke-width="0.3">τ</text></g>
<g transform="translate(94.84,273.58) scale(0.9725,0.9733)"><text font-family="Liberation Sans" font-size="10.5" fill="#f53333">0.015</text></g>
<g transform="translate(236.68,295.42) scale(1.2800,1.1259)"><text font-family="Liberation Sans" font-size="12" font-style="italic" fill="#3333f5" stroke="#3333f5" stroke-width="0.3">τ</text></g>
<g transform="translate(243.63,297.68) scale(0.9843,0.9333)"><text font-family="Liberation Sans" font-size="10.5" fill="#3333f5">0.005</text></g>
<g transform="translate(445.54,92.40) scale(0.9621,0.8837)"><text font-family="Liberation Sans" font-size="11.5" font-style="italic" fill="#111">σ(<tspan>M</tspan><tspan font-size="8.2" dy="2.2">C</tspan><tspan dy="-2.2">)</tspan></text></g>
<g transform="translate(370.48,143.61) scale(1.2248,0.9756)"><text font-family="Liberation Sans" font-size="16.5" fill="#111">(d)</text></g>
<g transform="translate(520.49,36.87) scale(1.0806,1.0267)"><text font-family="Liberation Sans" font-size="10.5" fill="#1a1a1a">325</text></g>
<g transform="translate(520.49,59.63) scale(1.0806,1.0267)"><text font-family="Liberation Sans" font-size="10.5" fill="#1a1a1a">300</text></g>
<g transform="translate(520.36,82.39) scale(1.0887,1.0267)"><text font-family="Liberation Sans" font-size="10.5" fill="#1a1a1a">275</text></g>
<g transform="translate(520.36,105.15) scale(1.0887,1.0267)"><text font-family="Liberation Sans" font-size="10.5" fill="#1a1a1a">250</text></g>
<g transform="translate(520.36,127.91) scale(1.0887,1.0267)"><text font-family="Liberation Sans" font-size="10.5" fill="#1a1a1a">225</text></g>
<g transform="translate(520.36,150.67) scale(1.0887,1.0267)"><text font-family="Liberation Sans" font-size="10.5" fill="#1a1a1a">200</text></g>
<g transform="translate(585.08,171.77) scale(1.1294,1.0400)"><text font-family="Liberation Sans" font-size="10.5" fill="#1a1a1a">0.190</text></g>
<g transform="translate(646.68,171.77) scale(1.1294,1.0400)"><text font-family="Liberation Sans" font-size="10.5" fill="#1a1a1a">0.195</text></g>
<g transform="translate(607.26,184.58) scale(0.9376,0.9519)"><text font-family="Liberation Sans" font-size="11.2" font-style="italic" fill="#1a1a1a">T<tspan font-size="8" dy="2">C</tspan></text></g>
<g transform="translate(514.33,98.35) scale(0.9722,0.9356) rotate(-90)"><text font-family="Liberation Sans" font-size="11.2" font-style="italic" fill="#1a1a1a">M<tspan font-size="8" dy="2">C</tspan></text></g>
<g transform="translate(550.72,142.22) scale(1.1752,1.0016)"><text font-family="Liberation Sans" font-size="16.5" fill="#111">(b)</text></g>
<g transform="translate(338.32,208.27) scale(1.1378,1.0267)"><text font-family="Liberation Sans" font-size="10.5" fill="#1a1a1a">400</text></g>
<g transform="translate(338.17,241.82) scale(1.1463,1.0267)"><text font-family="Liberation Sans" font-size="10.5" fill="#1a1a1a">300</text></g>
<g transform="translate(338.02,275.37) scale(1.1549,1.0267)"><text font-family="Liberation Sans" font-size="10.5" fill="#1a1a1a">200</text></g>
<g transform="translate(337.72,308.92) scale(1.1725,1.0267)"><text font-family="Liberation Sans" font-size="10.5" fill="#1a1a1a">100</text></g>
<g transform="translate(351.35,342.47) scale(1.2000,1.0267)"><text font-family="Liberation Sans" font-size="10.5" fill="#1a1a1a">0</text></g>
<g transform="translate(354.98,352.77) scale(1.1294,1.0400)"><text font-family="Liberation Sans" font-size="10.5" fill="#1a1a1a">0.180</text></g>
<g transform="translate(403.38,352.77) scale(1.1294,1.0400)"><text font-family="Liberation Sans" font-size="10.5" fill="#1a1a1a">0.185</text></g>
<g transform="translate(451.78,352.77) scale(1.1294,1.0400)"><text font-family="Liberation Sans" font-size="10.5" fill="#1a1a1a">0.190</text></g>
<g transform="translate(427.48,365.70) scale(1.0154,0.9935)"><text font-family="Liberation Sans" font-size="11.2" font-style="italic" fill="#1a1a1a">T</text></g>
<g transform="translate(332.60,276.54) scale(1.0065,0.9127) rotate(-90)"><text font-family="Liberation Sans" font-size="11.2" font-style="italic" fill="#1a1a1a">M</text></g>
<g transform="translate(370.01,324.22) scale(1.1917,1.0016)"><text font-family="Liberation Sans" font-size="16.5" fill="#111">(a)</text></g>
<g transform="translate(621.54,227.43) scale(0.9472,0.9116)"><text font-family="Liberation Sans" font-size="11.5" font-style="italic" fill="#111">σ(<tspan>T</tspan><tspan font-size="8.2" dy="2.2">C</tspan><tspan dy="-2.2">)</tspan></text></g>
<g transform="translate(547.41,323.31) scale(1.1942,1.0341)"><text font-family="Liberation Sans" font-size="16.5" fill="#111">(c)</text></g>
</svg>
</body></html>
